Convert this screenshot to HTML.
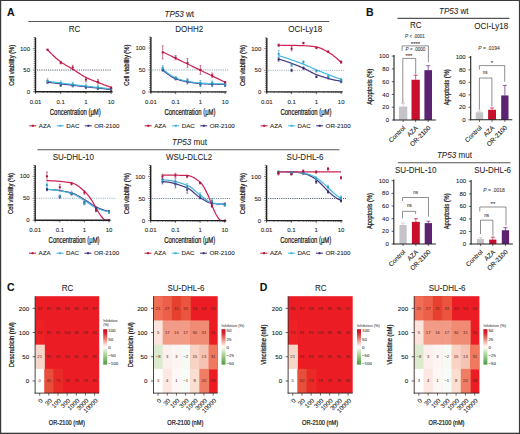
<!DOCTYPE html><html><head><meta charset="utf-8"><style>html,body{margin:0;padding:0;background:#fff;}svg{display:block;}text{stroke:#1a1a1a;stroke-width:0.08px;}text.cn{stroke:none;}text.at{stroke-width:0.22px;stroke:#111;}text.ti{stroke-width:0.05px;stroke:#222;}text.sm{stroke-width:0.06px;stroke:#333;}text.cb{stroke-width:0.08px;stroke:#555;}</style></head><body><svg width="520" height="434" viewBox="0 0 520 434" font-family="Liberation Sans">
<rect x="0.00" y="0.00" width="520.00" height="434.00" fill="#fff" />
<text x="7.00" y="16.00" font-size="10.5" text-anchor="start" font-weight="bold" font-style="normal" fill="#111" >A</text>
<text x="366.00" y="16.30" font-size="10.5" text-anchor="start" font-weight="bold" font-style="normal" fill="#111" >B</text>
<text x="7.00" y="290.60" font-size="10.5" text-anchor="start" font-weight="bold" font-style="normal" fill="#111" >C</text>
<text x="259.70" y="290.60" font-size="10.5" text-anchor="start" font-weight="bold" font-style="normal" fill="#111" >D</text>
<text x="179.3" y="16.9" font-size="8.7" text-anchor="middle" fill="#222" class="ti" textLength="29.64" lengthAdjust="spacingAndGlyphs"><tspan font-style="italic">TP53</tspan> wt</text>
<line x1="28.40" y1="21.50" x2="329.20" y2="21.50" stroke="#555" stroke-width="1.1" />
<text x="189.5" y="145.3" font-size="8.7" text-anchor="middle" fill="#222" class="ti" textLength="34.98" lengthAdjust="spacingAndGlyphs"><tspan font-style="italic">TP53</tspan> mut</text>
<line x1="37.50" y1="149.80" x2="339.40" y2="149.80" stroke="#555" stroke-width="1.1" />
<text x="74.55" y="31.90" font-size="8.7" text-anchor="middle" fill="#222" class="ti" textLength="11.55" lengthAdjust="spacingAndGlyphs">RC</text>
<line x1="37.00" y1="70.05" x2="111.50" y2="70.05" stroke="#3a4456" stroke-width="0.9" stroke-dasharray="1.1,1.1"/>
<polyline points="47.52,82.17 48.60,82.31 49.68,82.44 50.76,82.57 51.83,82.70 52.91,82.84 53.99,82.97 55.07,83.10 56.14,83.23 57.22,83.36 58.30,83.49 59.38,83.62 60.45,83.75 61.53,83.88 62.61,84.01 63.69,84.14 64.76,84.27 65.84,84.39 66.92,84.52 68.00,84.65 69.07,84.78 70.15,84.90 71.23,85.03 72.31,85.16 73.39,85.28 74.46,85.41 75.54,85.53 76.62,85.66 77.70,85.78 78.77,85.91 79.85,86.03 80.93,86.16 82.01,86.28 83.08,86.40 84.16,86.53 85.24,86.65 86.32,86.77 87.39,86.90 88.47,87.02 89.55,87.14 90.63,87.26 91.70,87.39 92.78,87.51 93.86,87.63 94.94,87.75 96.01,87.87 97.09,87.99 98.17,88.11 99.25,88.23 100.32,88.35 101.40,88.47 102.48,88.59 103.56,88.71 104.63,88.83 105.71,88.95 106.79,89.07 107.87,89.18 108.94,89.30 110.02,89.42 111.10,89.53" fill="none" stroke="#4a3a80" stroke-width="1.25"/>
<polyline points="47.52,81.31 48.60,81.45 49.68,81.60 50.76,81.74 51.83,81.89 52.91,82.03 53.99,82.17 55.07,82.32 56.14,82.46 57.22,82.60 58.30,82.74 59.38,82.88 60.45,83.02 61.53,83.16 62.61,83.30 63.69,83.43 64.76,83.57 65.84,83.71 66.92,83.84 68.00,83.98 69.07,84.11 70.15,84.24 71.23,84.37 72.31,84.51 73.39,84.64 74.46,84.77 75.54,84.89 76.62,85.02 77.70,85.15 78.77,85.28 79.85,85.41 80.93,85.54 82.01,85.66 83.08,85.79 84.16,85.91 85.24,86.04 86.32,86.16 87.39,86.29 88.47,86.41 89.55,86.54 90.63,86.66 91.70,86.78 92.78,86.90 93.86,87.03 94.94,87.15 96.01,87.27 97.09,87.39 98.17,87.50 99.25,87.62 100.32,87.74 101.40,87.86 102.48,87.98 103.56,88.09 104.63,88.21 105.71,88.32 106.79,88.44 107.87,88.55 108.94,88.66 110.02,88.77 111.10,88.89" fill="none" stroke="#48b8de" stroke-width="1.25"/>
<polyline points="47.52,49.70 48.60,50.85 49.68,51.98 50.76,53.08 51.83,54.16 52.91,55.20 53.99,56.22 55.07,57.21 56.14,58.16 57.22,59.08 58.30,59.97 59.38,60.83 60.45,61.64 61.53,62.42 62.61,63.15 63.69,63.85 64.76,64.52 65.84,65.17 66.92,65.80 68.00,66.42 69.07,67.03 70.15,67.65 71.23,68.28 72.31,68.93 73.39,69.60 74.46,70.29 75.54,70.99 76.62,71.71 77.70,72.43 78.77,73.14 79.85,73.85 80.93,74.55 82.01,75.22 83.08,75.87 84.16,76.49 85.24,77.07 86.32,77.62 87.39,78.13 88.47,78.61 89.55,79.08 90.63,79.53 91.70,79.97 92.78,80.40 93.86,80.82 94.94,81.23 96.01,81.65 97.09,82.06 98.17,82.49 99.25,82.91 100.32,83.33 101.40,83.75 102.48,84.17 103.56,84.58 104.63,84.99 105.71,85.39 106.79,85.79 107.87,86.19 108.94,86.59 110.02,86.98 111.10,87.37" fill="none" stroke="#cf2356" stroke-width="1.25"/>
<line x1="47.52" y1="80.88" x2="47.52" y2="83.47" stroke="#352a6e" stroke-width="0.6" />
<line x1="46.52" y1="80.88" x2="48.52" y2="80.88" stroke="#352a6e" stroke-width="0.5" />
<line x1="46.52" y1="83.47" x2="48.52" y2="83.47" stroke="#352a6e" stroke-width="0.5" />
<rect x="46.52" y="81.17" width="2.00" height="2.00" fill="#352a6e" />
<line x1="60.70" y1="83.91" x2="60.70" y2="86.50" stroke="#352a6e" stroke-width="0.6" />
<line x1="59.70" y1="83.91" x2="61.70" y2="83.91" stroke="#352a6e" stroke-width="0.5" />
<line x1="59.70" y1="86.50" x2="61.70" y2="86.50" stroke="#352a6e" stroke-width="0.5" />
<rect x="59.70" y="84.20" width="2.00" height="2.00" fill="#352a6e" />
<line x1="72.72" y1="84.34" x2="72.72" y2="86.94" stroke="#352a6e" stroke-width="0.6" />
<line x1="71.72" y1="84.34" x2="73.72" y2="84.34" stroke="#352a6e" stroke-width="0.5" />
<line x1="71.72" y1="86.94" x2="73.72" y2="86.94" stroke="#352a6e" stroke-width="0.5" />
<rect x="71.72" y="84.64" width="2.00" height="2.00" fill="#352a6e" />
<line x1="85.90" y1="86.07" x2="85.90" y2="88.67" stroke="#352a6e" stroke-width="0.6" />
<line x1="84.90" y1="86.07" x2="86.90" y2="86.07" stroke="#352a6e" stroke-width="0.5" />
<line x1="84.90" y1="88.67" x2="86.90" y2="88.67" stroke="#352a6e" stroke-width="0.5" />
<rect x="84.90" y="86.37" width="2.00" height="2.00" fill="#352a6e" />
<line x1="97.92" y1="86.94" x2="97.92" y2="89.53" stroke="#352a6e" stroke-width="0.6" />
<line x1="96.92" y1="86.94" x2="98.92" y2="86.94" stroke="#352a6e" stroke-width="0.5" />
<line x1="96.92" y1="89.53" x2="98.92" y2="89.53" stroke="#352a6e" stroke-width="0.5" />
<rect x="96.92" y="87.24" width="2.00" height="2.00" fill="#352a6e" />
<line x1="111.10" y1="88.67" x2="111.10" y2="90.40" stroke="#352a6e" stroke-width="0.6" />
<line x1="110.10" y1="88.67" x2="112.10" y2="88.67" stroke="#352a6e" stroke-width="0.5" />
<line x1="110.10" y1="90.40" x2="112.10" y2="90.40" stroke="#352a6e" stroke-width="0.5" />
<rect x="110.10" y="88.53" width="2.00" height="2.00" fill="#352a6e" />
<line x1="47.52" y1="78.71" x2="47.52" y2="83.04" stroke="#2f9fc8" stroke-width="0.6" />
<line x1="46.52" y1="78.71" x2="48.52" y2="78.71" stroke="#2f9fc8" stroke-width="0.5" />
<line x1="46.52" y1="83.04" x2="48.52" y2="83.04" stroke="#2f9fc8" stroke-width="0.5" />
<rect x="46.52" y="79.88" width="2.00" height="2.00" fill="#2f9fc8" />
<line x1="60.70" y1="80.88" x2="60.70" y2="85.20" stroke="#2f9fc8" stroke-width="0.6" />
<line x1="59.70" y1="80.88" x2="61.70" y2="80.88" stroke="#2f9fc8" stroke-width="0.5" />
<line x1="59.70" y1="85.20" x2="61.70" y2="85.20" stroke="#2f9fc8" stroke-width="0.5" />
<rect x="59.70" y="82.04" width="2.00" height="2.00" fill="#2f9fc8" />
<line x1="72.72" y1="82.17" x2="72.72" y2="86.50" stroke="#2f9fc8" stroke-width="0.6" />
<line x1="71.72" y1="82.17" x2="73.72" y2="82.17" stroke="#2f9fc8" stroke-width="0.5" />
<line x1="71.72" y1="86.50" x2="73.72" y2="86.50" stroke="#2f9fc8" stroke-width="0.5" />
<rect x="71.72" y="83.34" width="2.00" height="2.00" fill="#2f9fc8" />
<line x1="85.90" y1="83.91" x2="85.90" y2="88.24" stroke="#2f9fc8" stroke-width="0.6" />
<line x1="84.90" y1="83.91" x2="86.90" y2="83.91" stroke="#2f9fc8" stroke-width="0.5" />
<line x1="84.90" y1="88.24" x2="86.90" y2="88.24" stroke="#2f9fc8" stroke-width="0.5" />
<rect x="84.90" y="85.07" width="2.00" height="2.00" fill="#2f9fc8" />
<line x1="97.92" y1="85.20" x2="97.92" y2="89.53" stroke="#2f9fc8" stroke-width="0.6" />
<line x1="96.92" y1="85.20" x2="98.92" y2="85.20" stroke="#2f9fc8" stroke-width="0.5" />
<line x1="96.92" y1="89.53" x2="98.92" y2="89.53" stroke="#2f9fc8" stroke-width="0.5" />
<rect x="96.92" y="86.37" width="2.00" height="2.00" fill="#2f9fc8" />
<line x1="111.10" y1="87.80" x2="111.10" y2="89.53" stroke="#2f9fc8" stroke-width="0.6" />
<line x1="110.10" y1="87.80" x2="112.10" y2="87.80" stroke="#2f9fc8" stroke-width="0.5" />
<line x1="110.10" y1="89.53" x2="112.10" y2="89.53" stroke="#2f9fc8" stroke-width="0.5" />
<rect x="110.10" y="87.67" width="2.00" height="2.00" fill="#2f9fc8" />
<line x1="47.52" y1="49.27" x2="47.52" y2="50.13" stroke="#a8173f" stroke-width="0.6" />
<line x1="46.52" y1="49.27" x2="48.52" y2="49.27" stroke="#a8173f" stroke-width="0.5" />
<line x1="46.52" y1="50.13" x2="48.52" y2="50.13" stroke="#a8173f" stroke-width="0.5" />
<rect x="46.52" y="48.70" width="2.00" height="2.00" fill="#a8173f" />
<line x1="60.70" y1="61.39" x2="60.70" y2="63.99" stroke="#a8173f" stroke-width="0.6" />
<line x1="59.70" y1="61.39" x2="61.70" y2="61.39" stroke="#a8173f" stroke-width="0.5" />
<line x1="59.70" y1="63.99" x2="61.70" y2="63.99" stroke="#a8173f" stroke-width="0.5" />
<rect x="59.70" y="61.69" width="2.00" height="2.00" fill="#a8173f" />
<line x1="72.72" y1="65.29" x2="72.72" y2="69.62" stroke="#a8173f" stroke-width="0.6" />
<line x1="71.72" y1="65.29" x2="73.72" y2="65.29" stroke="#a8173f" stroke-width="0.5" />
<line x1="71.72" y1="69.62" x2="73.72" y2="69.62" stroke="#a8173f" stroke-width="0.5" />
<rect x="71.72" y="66.45" width="2.00" height="2.00" fill="#a8173f" />
<line x1="85.90" y1="77.41" x2="85.90" y2="81.74" stroke="#a8173f" stroke-width="0.6" />
<line x1="84.90" y1="77.41" x2="86.90" y2="77.41" stroke="#a8173f" stroke-width="0.5" />
<line x1="84.90" y1="81.74" x2="86.90" y2="81.74" stroke="#a8173f" stroke-width="0.5" />
<rect x="84.90" y="78.58" width="2.00" height="2.00" fill="#a8173f" />
<line x1="97.92" y1="79.58" x2="97.92" y2="83.91" stroke="#a8173f" stroke-width="0.6" />
<line x1="96.92" y1="79.58" x2="98.92" y2="79.58" stroke="#a8173f" stroke-width="0.5" />
<line x1="96.92" y1="83.91" x2="98.92" y2="83.91" stroke="#a8173f" stroke-width="0.5" />
<rect x="96.92" y="80.74" width="2.00" height="2.00" fill="#a8173f" />
<line x1="111.10" y1="86.94" x2="111.10" y2="88.67" stroke="#a8173f" stroke-width="0.6" />
<line x1="110.10" y1="86.94" x2="112.10" y2="86.94" stroke="#a8173f" stroke-width="0.5" />
<line x1="110.10" y1="88.67" x2="112.10" y2="88.67" stroke="#a8173f" stroke-width="0.5" />
<rect x="110.10" y="86.80" width="2.00" height="2.00" fill="#a8173f" />
<line x1="35.50" y1="37.57" x2="35.50" y2="92.20" stroke="#222" stroke-width="1.4" />
<line x1="34.80" y1="91.70" x2="112.60" y2="91.70" stroke="#222" stroke-width="1.4" />
<line x1="32.90" y1="91.70" x2="35.50" y2="91.70" stroke="#222" stroke-width="0.6" />
<line x1="33.70" y1="89.53" x2="35.50" y2="89.53" stroke="#222" stroke-width="0.6" />
<line x1="33.70" y1="87.37" x2="35.50" y2="87.37" stroke="#222" stroke-width="0.6" />
<line x1="33.70" y1="85.20" x2="35.50" y2="85.20" stroke="#222" stroke-width="0.6" />
<line x1="33.70" y1="83.04" x2="35.50" y2="83.04" stroke="#222" stroke-width="0.6" />
<line x1="33.70" y1="80.88" x2="35.50" y2="80.88" stroke="#222" stroke-width="0.6" />
<line x1="33.70" y1="78.71" x2="35.50" y2="78.71" stroke="#222" stroke-width="0.6" />
<line x1="33.70" y1="76.55" x2="35.50" y2="76.55" stroke="#222" stroke-width="0.6" />
<line x1="33.70" y1="74.38" x2="35.50" y2="74.38" stroke="#222" stroke-width="0.6" />
<line x1="33.70" y1="72.22" x2="35.50" y2="72.22" stroke="#222" stroke-width="0.6" />
<line x1="32.90" y1="70.05" x2="35.50" y2="70.05" stroke="#222" stroke-width="0.6" />
<line x1="33.70" y1="67.89" x2="35.50" y2="67.89" stroke="#222" stroke-width="0.6" />
<line x1="33.70" y1="65.72" x2="35.50" y2="65.72" stroke="#222" stroke-width="0.6" />
<line x1="33.70" y1="63.55" x2="35.50" y2="63.55" stroke="#222" stroke-width="0.6" />
<line x1="33.70" y1="61.39" x2="35.50" y2="61.39" stroke="#222" stroke-width="0.6" />
<line x1="33.70" y1="59.23" x2="35.50" y2="59.23" stroke="#222" stroke-width="0.6" />
<line x1="33.70" y1="57.06" x2="35.50" y2="57.06" stroke="#222" stroke-width="0.6" />
<line x1="33.70" y1="54.89" x2="35.50" y2="54.89" stroke="#222" stroke-width="0.6" />
<line x1="33.70" y1="52.73" x2="35.50" y2="52.73" stroke="#222" stroke-width="0.6" />
<line x1="33.70" y1="50.56" x2="35.50" y2="50.56" stroke="#222" stroke-width="0.6" />
<line x1="32.90" y1="48.40" x2="35.50" y2="48.40" stroke="#222" stroke-width="0.6" />
<line x1="33.70" y1="46.23" x2="35.50" y2="46.23" stroke="#222" stroke-width="0.6" />
<line x1="33.70" y1="44.07" x2="35.50" y2="44.07" stroke="#222" stroke-width="0.6" />
<line x1="33.70" y1="41.90" x2="35.50" y2="41.90" stroke="#222" stroke-width="0.6" />
<line x1="33.70" y1="39.74" x2="35.50" y2="39.74" stroke="#222" stroke-width="0.6" />
<line x1="33.70" y1="37.57" x2="35.50" y2="37.57" stroke="#222" stroke-width="0.6" />
<text x="30.00" y="93.80" font-size="6" text-anchor="end" font-weight="normal" font-style="normal" fill="#222" >0</text>
<text x="30.00" y="72.15" font-size="6" text-anchor="end" font-weight="normal" font-style="normal" fill="#222" >50</text>
<text x="30.00" y="50.50" font-size="6" text-anchor="end" font-weight="normal" font-style="normal" fill="#222" >100</text>
<line x1="35.50" y1="91.70" x2="35.50" y2="93.90" stroke="#222" stroke-width="0.7" />
<line x1="43.09" y1="91.70" x2="43.09" y2="92.90" stroke="#222" stroke-width="0.5" />
<line x1="47.52" y1="91.70" x2="47.52" y2="92.90" stroke="#222" stroke-width="0.5" />
<line x1="50.67" y1="91.70" x2="50.67" y2="92.90" stroke="#222" stroke-width="0.5" />
<line x1="53.11" y1="91.70" x2="53.11" y2="92.90" stroke="#222" stroke-width="0.5" />
<line x1="55.11" y1="91.70" x2="55.11" y2="92.90" stroke="#222" stroke-width="0.5" />
<line x1="56.80" y1="91.70" x2="56.80" y2="92.90" stroke="#222" stroke-width="0.5" />
<line x1="58.26" y1="91.70" x2="58.26" y2="92.90" stroke="#222" stroke-width="0.5" />
<line x1="59.55" y1="91.70" x2="59.55" y2="92.90" stroke="#222" stroke-width="0.5" />
<line x1="60.70" y1="91.70" x2="60.70" y2="93.90" stroke="#222" stroke-width="0.7" />
<line x1="68.29" y1="91.70" x2="68.29" y2="92.90" stroke="#222" stroke-width="0.5" />
<line x1="72.72" y1="91.70" x2="72.72" y2="92.90" stroke="#222" stroke-width="0.5" />
<line x1="75.87" y1="91.70" x2="75.87" y2="92.90" stroke="#222" stroke-width="0.5" />
<line x1="78.31" y1="91.70" x2="78.31" y2="92.90" stroke="#222" stroke-width="0.5" />
<line x1="80.31" y1="91.70" x2="80.31" y2="92.90" stroke="#222" stroke-width="0.5" />
<line x1="82.00" y1="91.70" x2="82.00" y2="92.90" stroke="#222" stroke-width="0.5" />
<line x1="83.46" y1="91.70" x2="83.46" y2="92.90" stroke="#222" stroke-width="0.5" />
<line x1="84.75" y1="91.70" x2="84.75" y2="92.90" stroke="#222" stroke-width="0.5" />
<line x1="85.90" y1="91.70" x2="85.90" y2="93.90" stroke="#222" stroke-width="0.7" />
<line x1="93.49" y1="91.70" x2="93.49" y2="92.90" stroke="#222" stroke-width="0.5" />
<line x1="97.92" y1="91.70" x2="97.92" y2="92.90" stroke="#222" stroke-width="0.5" />
<line x1="101.07" y1="91.70" x2="101.07" y2="92.90" stroke="#222" stroke-width="0.5" />
<line x1="103.51" y1="91.70" x2="103.51" y2="92.90" stroke="#222" stroke-width="0.5" />
<line x1="105.51" y1="91.70" x2="105.51" y2="92.90" stroke="#222" stroke-width="0.5" />
<line x1="107.20" y1="91.70" x2="107.20" y2="92.90" stroke="#222" stroke-width="0.5" />
<line x1="108.66" y1="91.70" x2="108.66" y2="92.90" stroke="#222" stroke-width="0.5" />
<line x1="109.95" y1="91.70" x2="109.95" y2="92.90" stroke="#222" stroke-width="0.5" />
<line x1="111.10" y1="91.70" x2="111.10" y2="93.90" stroke="#222" stroke-width="0.7" />
<text x="35.50" y="103.50" font-size="6" text-anchor="middle" font-weight="normal" font-style="normal" fill="#222" >0.01</text>
<text x="60.70" y="103.50" font-size="6" text-anchor="middle" font-weight="normal" font-style="normal" fill="#222" >0.1</text>
<text x="85.90" y="103.50" font-size="6" text-anchor="middle" font-weight="normal" font-style="normal" fill="#222" >1</text>
<text x="111.10" y="103.50" font-size="6" text-anchor="middle" font-weight="normal" font-style="normal" fill="#222" >10</text>
<text x="75.30" y="114.50" font-size="9" text-anchor="middle" font-weight="normal" font-style="normal" fill="#111" class="at" textLength="51" lengthAdjust="spacingAndGlyphs">Concentration (μM)</text>
<text transform="translate(13.50,65.34) rotate(-90)" x="0" y="0" font-size="7.4" text-anchor="middle" fill="#111" class="at" textLength="41" lengthAdjust="spacingAndGlyphs">Cell viability (%)</text>
<line x1="29.30" y1="125.80" x2="36.30" y2="125.80" stroke="#b9173f" stroke-width="1.0" />
<rect x="31.90" y="124.80" width="2.00" height="2.00" fill="#b9173f" />
<text x="38.80" y="128.00" font-size="6.2" text-anchor="start" font-weight="normal" font-style="normal" fill="#222" >AZA</text>
<line x1="56.80" y1="125.80" x2="63.80" y2="125.80" stroke="#3cb4dc" stroke-width="1.0" />
<rect x="59.40" y="124.80" width="2.00" height="2.00" fill="#3cb4dc" />
<text x="66.30" y="128.00" font-size="6.2" text-anchor="start" font-weight="normal" font-style="normal" fill="#222" >DAC</text>
<line x1="84.80" y1="125.80" x2="91.80" y2="125.80" stroke="#3b2c7a" stroke-width="1.0" />
<rect x="87.40" y="124.80" width="2.00" height="2.00" fill="#3b2c7a" />
<text x="94.30" y="128.00" font-size="6.2" text-anchor="start" font-weight="normal" font-style="normal" fill="#222" >OR-2100</text>
<text x="189.28" y="31.50" font-size="8.7" text-anchor="middle" fill="#222" class="ti" textLength="28.00" lengthAdjust="spacingAndGlyphs">DOHH2</text>
<line x1="152.40" y1="69.95" x2="228.50" y2="69.95" stroke="#7f93a8" stroke-width="0.9" stroke-dasharray="1.1,1.1"/>
<polyline points="162.71,69.95 163.77,70.89 164.83,71.80 165.88,72.68 166.94,73.53 168.00,74.33 169.06,75.10 170.12,75.82 171.18,76.50 172.23,77.12 173.29,77.69 174.35,78.19 175.41,78.64 176.47,79.03 177.53,79.39 178.58,79.73 179.64,80.04 180.70,80.33 181.76,80.60 182.82,80.86 183.88,81.10 184.93,81.32 185.99,81.53 187.05,81.73 188.11,81.92 189.17,82.11 190.23,82.29 191.28,82.46 192.34,82.63 193.40,82.80 194.46,82.95 195.52,83.09 196.58,83.22 197.63,83.33 198.69,83.43 199.75,83.52 200.81,83.58 201.87,83.65 202.93,83.71 203.98,83.77 205.04,83.82 206.10,83.88 207.16,83.93 208.22,83.99 209.28,84.04 210.33,84.08 211.39,84.13 212.45,84.17 213.51,84.21 214.57,84.25 215.63,84.28 216.68,84.31 217.74,84.34 218.80,84.37 219.86,84.39 220.92,84.40 221.98,84.42 223.03,84.43 224.09,84.43 225.15,84.44" fill="none" stroke="#4a3a80" stroke-width="1.25"/>
<polyline points="162.71,69.07 163.77,69.99 164.83,70.88 165.88,71.74 166.94,72.58 168.00,73.37 169.06,74.13 170.12,74.85 171.18,75.53 172.23,76.16 173.29,76.74 174.35,77.27 175.41,77.75 176.47,78.18 177.53,78.59 178.58,78.97 179.64,79.34 180.70,79.68 181.76,80.00 182.82,80.30 183.88,80.58 184.93,80.83 185.99,81.07 187.05,81.29 188.11,81.48 189.17,81.68 190.23,81.86 191.28,82.04 192.34,82.21 193.40,82.37 194.46,82.52 195.52,82.66 196.58,82.79 197.63,82.90 198.69,83.00 199.75,83.08 200.81,83.14 201.87,83.21 202.93,83.27 203.98,83.33 205.04,83.38 206.10,83.44 207.16,83.49 208.22,83.55 209.28,83.60 210.33,83.64 211.39,83.69 212.45,83.73 213.51,83.77 214.57,83.81 215.63,83.84 216.68,83.87 217.74,83.90 218.80,83.93 219.86,83.95 220.92,83.97 221.98,83.98 223.03,83.99 224.09,84.00 225.15,84.00" fill="none" stroke="#48b8de" stroke-width="1.25"/>
<polyline points="162.71,51.95 163.77,52.46 164.83,52.98 165.88,53.49 166.94,54.00 168.00,54.52 169.06,55.03 170.12,55.54 171.18,56.06 172.23,56.57 173.29,57.09 174.35,57.60 175.41,58.11 176.47,58.63 177.53,59.14 178.58,59.65 179.64,60.17 180.70,60.68 181.76,61.19 182.82,61.71 183.88,62.22 184.93,62.73 185.99,63.25 187.05,63.76 188.11,64.27 189.17,64.79 190.23,65.30 191.28,65.81 192.34,66.33 193.40,66.84 194.46,67.35 195.52,67.87 196.58,68.38 197.63,68.89 198.69,69.41 199.75,69.92 200.81,70.43 201.87,70.95 202.93,71.46 203.98,71.97 205.04,72.49 206.10,73.00 207.16,73.51 208.22,74.03 209.28,74.54 210.33,75.05 211.39,75.57 212.45,76.08 213.51,76.59 214.57,77.11 215.63,77.62 216.68,78.13 217.74,78.65 218.80,79.16 219.86,79.67 220.92,80.19 221.98,80.70 223.03,81.22 224.09,81.73 225.15,82.24" fill="none" stroke="#cf2356" stroke-width="1.25"/>
<line x1="162.71" y1="68.63" x2="162.71" y2="71.27" stroke="#352a6e" stroke-width="0.6" />
<line x1="161.71" y1="68.63" x2="163.71" y2="68.63" stroke="#352a6e" stroke-width="0.5" />
<line x1="161.71" y1="71.27" x2="163.71" y2="71.27" stroke="#352a6e" stroke-width="0.5" />
<rect x="161.71" y="68.95" width="2.00" height="2.00" fill="#352a6e" />
<line x1="175.65" y1="77.41" x2="175.65" y2="80.05" stroke="#352a6e" stroke-width="0.6" />
<line x1="174.65" y1="77.41" x2="176.65" y2="77.41" stroke="#352a6e" stroke-width="0.5" />
<line x1="174.65" y1="80.05" x2="176.65" y2="80.05" stroke="#352a6e" stroke-width="0.5" />
<rect x="174.65" y="77.73" width="2.00" height="2.00" fill="#352a6e" />
<line x1="187.46" y1="79.61" x2="187.46" y2="84.00" stroke="#352a6e" stroke-width="0.6" />
<line x1="186.46" y1="79.61" x2="188.46" y2="79.61" stroke="#352a6e" stroke-width="0.5" />
<line x1="186.46" y1="84.00" x2="188.46" y2="84.00" stroke="#352a6e" stroke-width="0.5" />
<rect x="186.46" y="80.80" width="2.00" height="2.00" fill="#352a6e" />
<line x1="200.40" y1="82.24" x2="200.40" y2="86.63" stroke="#352a6e" stroke-width="0.6" />
<line x1="199.40" y1="82.24" x2="201.40" y2="82.24" stroke="#352a6e" stroke-width="0.5" />
<line x1="199.40" y1="86.63" x2="201.40" y2="86.63" stroke="#352a6e" stroke-width="0.5" />
<rect x="199.40" y="83.44" width="2.00" height="2.00" fill="#352a6e" />
<line x1="212.21" y1="82.24" x2="212.21" y2="86.63" stroke="#352a6e" stroke-width="0.6" />
<line x1="211.21" y1="82.24" x2="213.21" y2="82.24" stroke="#352a6e" stroke-width="0.5" />
<line x1="211.21" y1="86.63" x2="213.21" y2="86.63" stroke="#352a6e" stroke-width="0.5" />
<rect x="211.21" y="83.44" width="2.00" height="2.00" fill="#352a6e" />
<line x1="225.15" y1="84.00" x2="225.15" y2="86.63" stroke="#352a6e" stroke-width="0.6" />
<line x1="224.15" y1="84.00" x2="226.15" y2="84.00" stroke="#352a6e" stroke-width="0.5" />
<line x1="224.15" y1="86.63" x2="226.15" y2="86.63" stroke="#352a6e" stroke-width="0.5" />
<rect x="224.15" y="84.31" width="2.00" height="2.00" fill="#352a6e" />
<line x1="162.71" y1="65.56" x2="162.71" y2="69.95" stroke="#2f9fc8" stroke-width="0.6" />
<line x1="161.71" y1="65.56" x2="163.71" y2="65.56" stroke="#2f9fc8" stroke-width="0.5" />
<line x1="161.71" y1="69.95" x2="163.71" y2="69.95" stroke="#2f9fc8" stroke-width="0.5" />
<rect x="161.71" y="66.75" width="2.00" height="2.00" fill="#2f9fc8" />
<line x1="175.65" y1="76.53" x2="175.65" y2="79.17" stroke="#2f9fc8" stroke-width="0.6" />
<line x1="174.65" y1="76.53" x2="176.65" y2="76.53" stroke="#2f9fc8" stroke-width="0.5" />
<line x1="174.65" y1="79.17" x2="176.65" y2="79.17" stroke="#2f9fc8" stroke-width="0.5" />
<rect x="174.65" y="76.85" width="2.00" height="2.00" fill="#2f9fc8" />
<line x1="187.46" y1="78.29" x2="187.46" y2="82.68" stroke="#2f9fc8" stroke-width="0.6" />
<line x1="186.46" y1="78.29" x2="188.46" y2="78.29" stroke="#2f9fc8" stroke-width="0.5" />
<line x1="186.46" y1="82.68" x2="188.46" y2="82.68" stroke="#2f9fc8" stroke-width="0.5" />
<rect x="186.46" y="79.49" width="2.00" height="2.00" fill="#2f9fc8" />
<line x1="200.40" y1="80.49" x2="200.40" y2="85.75" stroke="#2f9fc8" stroke-width="0.6" />
<line x1="199.40" y1="80.49" x2="201.40" y2="80.49" stroke="#2f9fc8" stroke-width="0.5" />
<line x1="199.40" y1="85.75" x2="201.40" y2="85.75" stroke="#2f9fc8" stroke-width="0.5" />
<rect x="199.40" y="82.12" width="2.00" height="2.00" fill="#2f9fc8" />
<line x1="212.21" y1="80.93" x2="212.21" y2="85.31" stroke="#2f9fc8" stroke-width="0.6" />
<line x1="211.21" y1="80.93" x2="213.21" y2="80.93" stroke="#2f9fc8" stroke-width="0.5" />
<line x1="211.21" y1="85.31" x2="213.21" y2="85.31" stroke="#2f9fc8" stroke-width="0.5" />
<rect x="211.21" y="82.12" width="2.00" height="2.00" fill="#2f9fc8" />
<line x1="225.15" y1="82.68" x2="225.15" y2="86.19" stroke="#2f9fc8" stroke-width="0.6" />
<line x1="224.15" y1="82.68" x2="226.15" y2="82.68" stroke="#2f9fc8" stroke-width="0.5" />
<line x1="224.15" y1="86.19" x2="226.15" y2="86.19" stroke="#2f9fc8" stroke-width="0.5" />
<rect x="224.15" y="83.44" width="2.00" height="2.00" fill="#2f9fc8" />
<line x1="162.71" y1="45.80" x2="162.71" y2="58.98" stroke="#a8173f" stroke-width="0.6" />
<line x1="161.71" y1="45.80" x2="163.71" y2="45.80" stroke="#a8173f" stroke-width="0.5" />
<line x1="161.71" y1="58.98" x2="163.71" y2="58.98" stroke="#a8173f" stroke-width="0.5" />
<rect x="161.71" y="51.39" width="2.00" height="2.00" fill="#a8173f" />
<line x1="175.65" y1="55.46" x2="175.65" y2="59.85" stroke="#a8173f" stroke-width="0.6" />
<line x1="174.65" y1="55.46" x2="176.65" y2="55.46" stroke="#a8173f" stroke-width="0.5" />
<line x1="174.65" y1="59.85" x2="176.65" y2="59.85" stroke="#a8173f" stroke-width="0.5" />
<rect x="174.65" y="56.66" width="2.00" height="2.00" fill="#a8173f" />
<line x1="187.46" y1="58.54" x2="187.46" y2="67.32" stroke="#a8173f" stroke-width="0.6" />
<line x1="186.46" y1="58.54" x2="188.46" y2="58.54" stroke="#a8173f" stroke-width="0.5" />
<line x1="186.46" y1="67.32" x2="188.46" y2="67.32" stroke="#a8173f" stroke-width="0.5" />
<rect x="186.46" y="61.93" width="2.00" height="2.00" fill="#a8173f" />
<line x1="200.40" y1="65.56" x2="200.40" y2="74.34" stroke="#a8173f" stroke-width="0.6" />
<line x1="199.40" y1="65.56" x2="201.40" y2="65.56" stroke="#a8173f" stroke-width="0.5" />
<line x1="199.40" y1="74.34" x2="201.40" y2="74.34" stroke="#a8173f" stroke-width="0.5" />
<rect x="199.40" y="68.95" width="2.00" height="2.00" fill="#a8173f" />
<line x1="212.21" y1="73.02" x2="212.21" y2="77.41" stroke="#a8173f" stroke-width="0.6" />
<line x1="211.21" y1="73.02" x2="213.21" y2="73.02" stroke="#a8173f" stroke-width="0.5" />
<line x1="211.21" y1="77.41" x2="213.21" y2="77.41" stroke="#a8173f" stroke-width="0.5" />
<rect x="211.21" y="74.22" width="2.00" height="2.00" fill="#a8173f" />
<line x1="225.15" y1="81.36" x2="225.15" y2="83.12" stroke="#a8173f" stroke-width="0.6" />
<line x1="224.15" y1="81.36" x2="226.15" y2="81.36" stroke="#a8173f" stroke-width="0.5" />
<line x1="224.15" y1="83.12" x2="226.15" y2="83.12" stroke="#a8173f" stroke-width="0.5" />
<rect x="224.15" y="81.24" width="2.00" height="2.00" fill="#a8173f" />
<line x1="150.90" y1="37.02" x2="150.90" y2="92.40" stroke="#222" stroke-width="1.4" />
<line x1="150.20" y1="91.90" x2="226.65" y2="91.90" stroke="#222" stroke-width="1.4" />
<line x1="148.30" y1="91.90" x2="150.90" y2="91.90" stroke="#222" stroke-width="0.6" />
<line x1="149.10" y1="89.71" x2="150.90" y2="89.71" stroke="#222" stroke-width="0.6" />
<line x1="149.10" y1="87.51" x2="150.90" y2="87.51" stroke="#222" stroke-width="0.6" />
<line x1="149.10" y1="85.31" x2="150.90" y2="85.31" stroke="#222" stroke-width="0.6" />
<line x1="149.10" y1="83.12" x2="150.90" y2="83.12" stroke="#222" stroke-width="0.6" />
<line x1="149.10" y1="80.93" x2="150.90" y2="80.93" stroke="#222" stroke-width="0.6" />
<line x1="149.10" y1="78.73" x2="150.90" y2="78.73" stroke="#222" stroke-width="0.6" />
<line x1="149.10" y1="76.53" x2="150.90" y2="76.53" stroke="#222" stroke-width="0.6" />
<line x1="149.10" y1="74.34" x2="150.90" y2="74.34" stroke="#222" stroke-width="0.6" />
<line x1="149.10" y1="72.15" x2="150.90" y2="72.15" stroke="#222" stroke-width="0.6" />
<line x1="148.30" y1="69.95" x2="150.90" y2="69.95" stroke="#222" stroke-width="0.6" />
<line x1="149.10" y1="67.75" x2="150.90" y2="67.75" stroke="#222" stroke-width="0.6" />
<line x1="149.10" y1="65.56" x2="150.90" y2="65.56" stroke="#222" stroke-width="0.6" />
<line x1="149.10" y1="63.37" x2="150.90" y2="63.37" stroke="#222" stroke-width="0.6" />
<line x1="149.10" y1="61.17" x2="150.90" y2="61.17" stroke="#222" stroke-width="0.6" />
<line x1="149.10" y1="58.98" x2="150.90" y2="58.98" stroke="#222" stroke-width="0.6" />
<line x1="149.10" y1="56.78" x2="150.90" y2="56.78" stroke="#222" stroke-width="0.6" />
<line x1="149.10" y1="54.59" x2="150.90" y2="54.59" stroke="#222" stroke-width="0.6" />
<line x1="149.10" y1="52.39" x2="150.90" y2="52.39" stroke="#222" stroke-width="0.6" />
<line x1="149.10" y1="50.20" x2="150.90" y2="50.20" stroke="#222" stroke-width="0.6" />
<line x1="148.30" y1="48.00" x2="150.90" y2="48.00" stroke="#222" stroke-width="0.6" />
<line x1="149.10" y1="45.80" x2="150.90" y2="45.80" stroke="#222" stroke-width="0.6" />
<line x1="149.10" y1="43.61" x2="150.90" y2="43.61" stroke="#222" stroke-width="0.6" />
<line x1="149.10" y1="41.41" x2="150.90" y2="41.41" stroke="#222" stroke-width="0.6" />
<line x1="149.10" y1="39.22" x2="150.90" y2="39.22" stroke="#222" stroke-width="0.6" />
<line x1="149.10" y1="37.02" x2="150.90" y2="37.02" stroke="#222" stroke-width="0.6" />
<text x="145.40" y="94.00" font-size="6" text-anchor="end" font-weight="normal" font-style="normal" fill="#222" >0</text>
<text x="145.40" y="72.05" font-size="6" text-anchor="end" font-weight="normal" font-style="normal" fill="#222" >50</text>
<text x="145.40" y="50.10" font-size="6" text-anchor="end" font-weight="normal" font-style="normal" fill="#222" >100</text>
<line x1="150.90" y1="91.90" x2="150.90" y2="94.10" stroke="#222" stroke-width="0.7" />
<line x1="158.35" y1="91.90" x2="158.35" y2="93.10" stroke="#222" stroke-width="0.5" />
<line x1="162.71" y1="91.90" x2="162.71" y2="93.10" stroke="#222" stroke-width="0.5" />
<line x1="165.80" y1="91.90" x2="165.80" y2="93.10" stroke="#222" stroke-width="0.5" />
<line x1="168.20" y1="91.90" x2="168.20" y2="93.10" stroke="#222" stroke-width="0.5" />
<line x1="170.16" y1="91.90" x2="170.16" y2="93.10" stroke="#222" stroke-width="0.5" />
<line x1="171.82" y1="91.90" x2="171.82" y2="93.10" stroke="#222" stroke-width="0.5" />
<line x1="173.25" y1="91.90" x2="173.25" y2="93.10" stroke="#222" stroke-width="0.5" />
<line x1="174.52" y1="91.90" x2="174.52" y2="93.10" stroke="#222" stroke-width="0.5" />
<line x1="175.65" y1="91.90" x2="175.65" y2="94.10" stroke="#222" stroke-width="0.7" />
<line x1="183.10" y1="91.90" x2="183.10" y2="93.10" stroke="#222" stroke-width="0.5" />
<line x1="187.46" y1="91.90" x2="187.46" y2="93.10" stroke="#222" stroke-width="0.5" />
<line x1="190.55" y1="91.90" x2="190.55" y2="93.10" stroke="#222" stroke-width="0.5" />
<line x1="192.95" y1="91.90" x2="192.95" y2="93.10" stroke="#222" stroke-width="0.5" />
<line x1="194.91" y1="91.90" x2="194.91" y2="93.10" stroke="#222" stroke-width="0.5" />
<line x1="196.57" y1="91.90" x2="196.57" y2="93.10" stroke="#222" stroke-width="0.5" />
<line x1="198.00" y1="91.90" x2="198.00" y2="93.10" stroke="#222" stroke-width="0.5" />
<line x1="199.27" y1="91.90" x2="199.27" y2="93.10" stroke="#222" stroke-width="0.5" />
<line x1="200.40" y1="91.90" x2="200.40" y2="94.10" stroke="#222" stroke-width="0.7" />
<line x1="207.85" y1="91.90" x2="207.85" y2="93.10" stroke="#222" stroke-width="0.5" />
<line x1="212.21" y1="91.90" x2="212.21" y2="93.10" stroke="#222" stroke-width="0.5" />
<line x1="215.30" y1="91.90" x2="215.30" y2="93.10" stroke="#222" stroke-width="0.5" />
<line x1="217.70" y1="91.90" x2="217.70" y2="93.10" stroke="#222" stroke-width="0.5" />
<line x1="219.66" y1="91.90" x2="219.66" y2="93.10" stroke="#222" stroke-width="0.5" />
<line x1="221.32" y1="91.90" x2="221.32" y2="93.10" stroke="#222" stroke-width="0.5" />
<line x1="222.75" y1="91.90" x2="222.75" y2="93.10" stroke="#222" stroke-width="0.5" />
<line x1="224.02" y1="91.90" x2="224.02" y2="93.10" stroke="#222" stroke-width="0.5" />
<line x1="225.15" y1="91.90" x2="225.15" y2="94.10" stroke="#222" stroke-width="0.7" />
<text x="150.90" y="103.70" font-size="6" text-anchor="middle" font-weight="normal" font-style="normal" fill="#222" >0.01</text>
<text x="175.65" y="103.70" font-size="6" text-anchor="middle" font-weight="normal" font-style="normal" fill="#222" >0.1</text>
<text x="200.40" y="103.70" font-size="6" text-anchor="middle" font-weight="normal" font-style="normal" fill="#222" >1</text>
<text x="225.15" y="103.70" font-size="6" text-anchor="middle" font-weight="normal" font-style="normal" fill="#222" >10</text>
<text x="190.03" y="114.70" font-size="9" text-anchor="middle" font-weight="normal" font-style="normal" fill="#111" class="at" textLength="51" lengthAdjust="spacingAndGlyphs">Concentration (μM)</text>
<text transform="translate(128.90,65.16) rotate(-90)" x="0" y="0" font-size="7.4" text-anchor="middle" fill="#111" class="at" textLength="41" lengthAdjust="spacingAndGlyphs">Cell viability (%)</text>
<line x1="144.70" y1="125.80" x2="151.70" y2="125.80" stroke="#b9173f" stroke-width="1.0" />
<rect x="147.30" y="124.80" width="2.00" height="2.00" fill="#b9173f" />
<text x="154.20" y="128.00" font-size="6.2" text-anchor="start" font-weight="normal" font-style="normal" fill="#222" >AZA</text>
<line x1="172.20" y1="125.80" x2="179.20" y2="125.80" stroke="#3cb4dc" stroke-width="1.0" />
<rect x="174.80" y="124.80" width="2.00" height="2.00" fill="#3cb4dc" />
<text x="181.70" y="128.00" font-size="6.2" text-anchor="start" font-weight="normal" font-style="normal" fill="#222" >DAC</text>
<line x1="200.20" y1="125.80" x2="207.20" y2="125.80" stroke="#3b2c7a" stroke-width="1.0" />
<rect x="202.80" y="124.80" width="2.00" height="2.00" fill="#3b2c7a" />
<text x="209.70" y="128.00" font-size="6.2" text-anchor="start" font-weight="normal" font-style="normal" fill="#222" >OR-2100</text>
<text x="305.25" y="32.20" font-size="8.7" text-anchor="middle" fill="#222" class="ti" textLength="33.94" lengthAdjust="spacingAndGlyphs">OCI-Ly18</text>
<line x1="268.30" y1="70.30" x2="345.00" y2="70.30" stroke="#93a5b5" stroke-width="0.9" stroke-dasharray="1.1,1.1"/>
<polyline points="278.63,59.07 279.69,59.37 280.75,59.68 281.81,60.00 282.87,60.33 283.93,60.66 285.00,61.01 286.06,61.36 287.12,61.73 288.18,62.10 289.24,62.48 290.30,62.86 291.36,63.26 292.42,63.66 293.48,64.06 294.54,64.47 295.60,64.89 296.66,65.32 297.72,65.75 298.78,66.18 299.84,66.62 300.90,67.06 301.96,67.51 303.02,67.96 304.08,68.43 305.14,68.93 306.20,69.47 307.27,70.04 308.33,70.62 309.39,71.21 310.45,71.79 311.51,72.37 312.57,72.92 313.63,73.45 314.69,73.94 315.75,74.38 316.81,74.76 317.87,75.14 318.93,75.51 319.99,75.87 321.05,76.23 322.11,76.59 323.17,76.93 324.23,77.27 325.29,77.61 326.35,77.93 327.41,78.24 328.47,78.54 329.53,78.84 330.60,79.12 331.66,79.38 332.72,79.64 333.78,79.88 334.84,80.10 335.90,80.31 336.96,80.50 338.02,80.68 339.08,80.84 340.14,80.98 341.20,81.10" fill="none" stroke="#4a3a80" stroke-width="1.25"/>
<polyline points="278.63,55.61 279.69,55.93 280.75,56.25 281.81,56.57 282.87,56.90 283.93,57.24 285.00,57.58 286.06,57.93 287.12,58.28 288.18,58.64 289.24,59.00 290.30,59.37 291.36,59.74 292.42,60.12 293.48,60.50 294.54,60.89 295.60,61.27 296.66,61.67 297.72,62.06 298.78,62.46 299.84,62.87 300.90,63.27 301.96,63.68 303.02,64.09 304.08,64.51 305.14,64.94 306.20,65.39 307.27,65.85 308.33,66.32 309.39,66.79 310.45,67.27 311.51,67.75 312.57,68.22 313.63,68.69 314.69,69.15 315.75,69.60 316.81,70.04 317.87,70.47 318.93,70.90 319.99,71.33 321.05,71.75 322.11,72.18 323.17,72.60 324.23,73.02 325.29,73.44 326.35,73.85 327.41,74.27 328.47,74.68 329.53,75.08 330.60,75.49 331.66,75.89 332.72,76.29 333.78,76.69 334.84,77.08 335.90,77.47 336.96,77.86 338.02,78.24 339.08,78.62 340.14,79.00 341.20,79.37" fill="none" stroke="#48b8de" stroke-width="1.25"/>
<polyline points="278.63,45.24 279.69,45.24 280.75,45.25 281.81,45.25 282.87,45.26 283.93,45.27 285.00,45.28 286.06,45.29 287.12,45.30 288.18,45.31 289.24,45.33 290.30,45.35 291.36,45.37 292.42,45.39 293.48,45.41 294.54,45.43 295.60,45.46 296.66,45.48 297.72,45.51 298.78,45.54 299.84,45.57 300.90,45.60 301.96,45.63 303.02,45.66 304.08,45.70 305.14,45.75 306.20,45.81 307.27,45.88 308.33,45.96 309.39,46.06 310.45,46.16 311.51,46.28 312.57,46.41 313.63,46.55 314.69,46.70 315.75,46.87 316.81,47.05 317.87,47.29 318.93,47.60 319.99,47.97 321.05,48.40 322.11,48.88 323.17,49.39 324.23,49.94 325.29,50.51 326.35,51.10 327.41,51.69 328.47,52.29 329.53,52.93 330.60,53.61 331.66,54.33 332.72,55.10 333.78,55.90 334.84,56.75 335.90,57.63 336.96,58.55 338.02,59.50 339.08,60.48 340.14,61.49 341.20,62.52" fill="none" stroke="#cf2356" stroke-width="1.25"/>
<line x1="278.63" y1="57.77" x2="278.63" y2="61.23" stroke="#352a6e" stroke-width="0.6" />
<line x1="277.63" y1="57.77" x2="279.63" y2="57.77" stroke="#352a6e" stroke-width="0.5" />
<line x1="277.63" y1="61.23" x2="279.63" y2="61.23" stroke="#352a6e" stroke-width="0.5" />
<rect x="277.63" y="58.50" width="2.00" height="2.00" fill="#352a6e" />
<line x1="291.60" y1="69.00" x2="291.60" y2="71.60" stroke="#352a6e" stroke-width="0.6" />
<line x1="290.60" y1="69.00" x2="292.60" y2="69.00" stroke="#352a6e" stroke-width="0.5" />
<line x1="290.60" y1="71.60" x2="292.60" y2="71.60" stroke="#352a6e" stroke-width="0.5" />
<rect x="290.60" y="69.30" width="2.00" height="2.00" fill="#352a6e" />
<line x1="303.43" y1="66.84" x2="303.43" y2="69.44" stroke="#352a6e" stroke-width="0.6" />
<line x1="302.43" y1="66.84" x2="304.43" y2="66.84" stroke="#352a6e" stroke-width="0.5" />
<line x1="302.43" y1="69.44" x2="304.43" y2="69.44" stroke="#352a6e" stroke-width="0.5" />
<rect x="302.43" y="67.14" width="2.00" height="2.00" fill="#352a6e" />
<line x1="316.40" y1="75.92" x2="316.40" y2="77.64" stroke="#352a6e" stroke-width="0.6" />
<line x1="315.40" y1="75.92" x2="317.40" y2="75.92" stroke="#352a6e" stroke-width="0.5" />
<line x1="315.40" y1="77.64" x2="317.40" y2="77.64" stroke="#352a6e" stroke-width="0.5" />
<rect x="315.40" y="75.78" width="2.00" height="2.00" fill="#352a6e" />
<line x1="328.23" y1="76.35" x2="328.23" y2="78.94" stroke="#352a6e" stroke-width="0.6" />
<line x1="327.23" y1="76.35" x2="329.23" y2="76.35" stroke="#352a6e" stroke-width="0.5" />
<line x1="327.23" y1="78.94" x2="329.23" y2="78.94" stroke="#352a6e" stroke-width="0.5" />
<rect x="327.23" y="76.64" width="2.00" height="2.00" fill="#352a6e" />
<line x1="341.20" y1="80.24" x2="341.20" y2="82.83" stroke="#352a6e" stroke-width="0.6" />
<line x1="340.20" y1="80.24" x2="342.20" y2="80.24" stroke="#352a6e" stroke-width="0.5" />
<line x1="340.20" y1="82.83" x2="342.20" y2="82.83" stroke="#352a6e" stroke-width="0.5" />
<rect x="340.20" y="80.53" width="2.00" height="2.00" fill="#352a6e" />
<line x1="278.63" y1="50.43" x2="278.63" y2="57.34" stroke="#2f9fc8" stroke-width="0.6" />
<line x1="277.63" y1="50.43" x2="279.63" y2="50.43" stroke="#2f9fc8" stroke-width="0.5" />
<line x1="277.63" y1="57.34" x2="279.63" y2="57.34" stroke="#2f9fc8" stroke-width="0.5" />
<rect x="277.63" y="52.88" width="2.00" height="2.00" fill="#2f9fc8" />
<line x1="291.60" y1="63.82" x2="291.60" y2="66.41" stroke="#2f9fc8" stroke-width="0.6" />
<line x1="290.60" y1="63.82" x2="292.60" y2="63.82" stroke="#2f9fc8" stroke-width="0.5" />
<line x1="290.60" y1="66.41" x2="292.60" y2="66.41" stroke="#2f9fc8" stroke-width="0.5" />
<rect x="290.60" y="64.12" width="2.00" height="2.00" fill="#2f9fc8" />
<line x1="303.43" y1="60.80" x2="303.43" y2="63.39" stroke="#2f9fc8" stroke-width="0.6" />
<line x1="302.43" y1="60.80" x2="304.43" y2="60.80" stroke="#2f9fc8" stroke-width="0.5" />
<line x1="302.43" y1="63.39" x2="304.43" y2="63.39" stroke="#2f9fc8" stroke-width="0.5" />
<rect x="302.43" y="61.09" width="2.00" height="2.00" fill="#2f9fc8" />
<line x1="316.40" y1="70.30" x2="316.40" y2="72.03" stroke="#2f9fc8" stroke-width="0.6" />
<line x1="315.40" y1="70.30" x2="317.40" y2="70.30" stroke="#2f9fc8" stroke-width="0.5" />
<line x1="315.40" y1="72.03" x2="317.40" y2="72.03" stroke="#2f9fc8" stroke-width="0.5" />
<rect x="315.40" y="70.16" width="2.00" height="2.00" fill="#2f9fc8" />
<line x1="328.23" y1="75.48" x2="328.23" y2="78.08" stroke="#2f9fc8" stroke-width="0.6" />
<line x1="327.23" y1="75.48" x2="329.23" y2="75.48" stroke="#2f9fc8" stroke-width="0.5" />
<line x1="327.23" y1="78.08" x2="329.23" y2="78.08" stroke="#2f9fc8" stroke-width="0.5" />
<rect x="327.23" y="75.78" width="2.00" height="2.00" fill="#2f9fc8" />
<line x1="341.20" y1="78.51" x2="341.20" y2="81.10" stroke="#2f9fc8" stroke-width="0.6" />
<line x1="340.20" y1="78.51" x2="342.20" y2="78.51" stroke="#2f9fc8" stroke-width="0.5" />
<line x1="340.20" y1="81.10" x2="342.20" y2="81.10" stroke="#2f9fc8" stroke-width="0.5" />
<rect x="340.20" y="78.80" width="2.00" height="2.00" fill="#2f9fc8" />
<line x1="278.63" y1="43.95" x2="278.63" y2="46.54" stroke="#a8173f" stroke-width="0.6" />
<line x1="277.63" y1="43.95" x2="279.63" y2="43.95" stroke="#a8173f" stroke-width="0.5" />
<line x1="277.63" y1="46.54" x2="279.63" y2="46.54" stroke="#a8173f" stroke-width="0.5" />
<rect x="277.63" y="44.24" width="2.00" height="2.00" fill="#a8173f" />
<line x1="291.60" y1="46.54" x2="291.60" y2="50.86" stroke="#a8173f" stroke-width="0.6" />
<line x1="290.60" y1="46.54" x2="292.60" y2="46.54" stroke="#a8173f" stroke-width="0.5" />
<line x1="290.60" y1="50.86" x2="292.60" y2="50.86" stroke="#a8173f" stroke-width="0.5" />
<rect x="290.60" y="47.70" width="2.00" height="2.00" fill="#a8173f" />
<line x1="303.43" y1="42.22" x2="303.43" y2="43.95" stroke="#a8173f" stroke-width="0.6" />
<line x1="302.43" y1="42.22" x2="304.43" y2="42.22" stroke="#a8173f" stroke-width="0.5" />
<line x1="302.43" y1="43.95" x2="304.43" y2="43.95" stroke="#a8173f" stroke-width="0.5" />
<rect x="302.43" y="42.08" width="2.00" height="2.00" fill="#a8173f" />
<line x1="316.40" y1="46.97" x2="316.40" y2="48.70" stroke="#a8173f" stroke-width="0.6" />
<line x1="315.40" y1="46.97" x2="317.40" y2="46.97" stroke="#a8173f" stroke-width="0.5" />
<line x1="315.40" y1="48.70" x2="317.40" y2="48.70" stroke="#a8173f" stroke-width="0.5" />
<rect x="315.40" y="46.84" width="2.00" height="2.00" fill="#a8173f" />
<line x1="328.23" y1="50.86" x2="328.23" y2="52.59" stroke="#a8173f" stroke-width="0.6" />
<line x1="327.23" y1="50.86" x2="329.23" y2="50.86" stroke="#a8173f" stroke-width="0.5" />
<line x1="327.23" y1="52.59" x2="329.23" y2="52.59" stroke="#a8173f" stroke-width="0.5" />
<rect x="327.23" y="50.72" width="2.00" height="2.00" fill="#a8173f" />
<line x1="341.20" y1="60.80" x2="341.20" y2="63.39" stroke="#a8173f" stroke-width="0.6" />
<line x1="340.20" y1="60.80" x2="342.20" y2="60.80" stroke="#a8173f" stroke-width="0.5" />
<line x1="340.20" y1="63.39" x2="342.20" y2="63.39" stroke="#a8173f" stroke-width="0.5" />
<rect x="340.20" y="61.09" width="2.00" height="2.00" fill="#a8173f" />
<line x1="266.80" y1="37.90" x2="266.80" y2="92.40" stroke="#222" stroke-width="1.4" />
<line x1="266.10" y1="91.90" x2="342.70" y2="91.90" stroke="#222" stroke-width="1.4" />
<line x1="264.20" y1="91.90" x2="266.80" y2="91.90" stroke="#222" stroke-width="0.6" />
<line x1="265.00" y1="89.74" x2="266.80" y2="89.74" stroke="#222" stroke-width="0.6" />
<line x1="265.00" y1="87.58" x2="266.80" y2="87.58" stroke="#222" stroke-width="0.6" />
<line x1="265.00" y1="85.42" x2="266.80" y2="85.42" stroke="#222" stroke-width="0.6" />
<line x1="265.00" y1="83.26" x2="266.80" y2="83.26" stroke="#222" stroke-width="0.6" />
<line x1="265.00" y1="81.10" x2="266.80" y2="81.10" stroke="#222" stroke-width="0.6" />
<line x1="265.00" y1="78.94" x2="266.80" y2="78.94" stroke="#222" stroke-width="0.6" />
<line x1="265.00" y1="76.78" x2="266.80" y2="76.78" stroke="#222" stroke-width="0.6" />
<line x1="265.00" y1="74.62" x2="266.80" y2="74.62" stroke="#222" stroke-width="0.6" />
<line x1="265.00" y1="72.46" x2="266.80" y2="72.46" stroke="#222" stroke-width="0.6" />
<line x1="264.20" y1="70.30" x2="266.80" y2="70.30" stroke="#222" stroke-width="0.6" />
<line x1="265.00" y1="68.14" x2="266.80" y2="68.14" stroke="#222" stroke-width="0.6" />
<line x1="265.00" y1="65.98" x2="266.80" y2="65.98" stroke="#222" stroke-width="0.6" />
<line x1="265.00" y1="63.82" x2="266.80" y2="63.82" stroke="#222" stroke-width="0.6" />
<line x1="265.00" y1="61.66" x2="266.80" y2="61.66" stroke="#222" stroke-width="0.6" />
<line x1="265.00" y1="59.50" x2="266.80" y2="59.50" stroke="#222" stroke-width="0.6" />
<line x1="265.00" y1="57.34" x2="266.80" y2="57.34" stroke="#222" stroke-width="0.6" />
<line x1="265.00" y1="55.18" x2="266.80" y2="55.18" stroke="#222" stroke-width="0.6" />
<line x1="265.00" y1="53.02" x2="266.80" y2="53.02" stroke="#222" stroke-width="0.6" />
<line x1="265.00" y1="50.86" x2="266.80" y2="50.86" stroke="#222" stroke-width="0.6" />
<line x1="264.20" y1="48.70" x2="266.80" y2="48.70" stroke="#222" stroke-width="0.6" />
<line x1="265.00" y1="46.54" x2="266.80" y2="46.54" stroke="#222" stroke-width="0.6" />
<line x1="265.00" y1="44.38" x2="266.80" y2="44.38" stroke="#222" stroke-width="0.6" />
<line x1="265.00" y1="42.22" x2="266.80" y2="42.22" stroke="#222" stroke-width="0.6" />
<line x1="265.00" y1="40.06" x2="266.80" y2="40.06" stroke="#222" stroke-width="0.6" />
<line x1="265.00" y1="37.90" x2="266.80" y2="37.90" stroke="#222" stroke-width="0.6" />
<text x="261.30" y="94.00" font-size="6" text-anchor="end" font-weight="normal" font-style="normal" fill="#222" >0</text>
<text x="261.30" y="72.40" font-size="6" text-anchor="end" font-weight="normal" font-style="normal" fill="#222" >50</text>
<text x="261.30" y="50.80" font-size="6" text-anchor="end" font-weight="normal" font-style="normal" fill="#222" >100</text>
<line x1="266.80" y1="91.90" x2="266.80" y2="94.10" stroke="#222" stroke-width="0.7" />
<line x1="274.27" y1="91.90" x2="274.27" y2="93.10" stroke="#222" stroke-width="0.5" />
<line x1="278.63" y1="91.90" x2="278.63" y2="93.10" stroke="#222" stroke-width="0.5" />
<line x1="281.73" y1="91.90" x2="281.73" y2="93.10" stroke="#222" stroke-width="0.5" />
<line x1="284.13" y1="91.90" x2="284.13" y2="93.10" stroke="#222" stroke-width="0.5" />
<line x1="286.10" y1="91.90" x2="286.10" y2="93.10" stroke="#222" stroke-width="0.5" />
<line x1="287.76" y1="91.90" x2="287.76" y2="93.10" stroke="#222" stroke-width="0.5" />
<line x1="289.20" y1="91.90" x2="289.20" y2="93.10" stroke="#222" stroke-width="0.5" />
<line x1="290.47" y1="91.90" x2="290.47" y2="93.10" stroke="#222" stroke-width="0.5" />
<line x1="291.60" y1="91.90" x2="291.60" y2="94.10" stroke="#222" stroke-width="0.7" />
<line x1="299.07" y1="91.90" x2="299.07" y2="93.10" stroke="#222" stroke-width="0.5" />
<line x1="303.43" y1="91.90" x2="303.43" y2="93.10" stroke="#222" stroke-width="0.5" />
<line x1="306.53" y1="91.90" x2="306.53" y2="93.10" stroke="#222" stroke-width="0.5" />
<line x1="308.93" y1="91.90" x2="308.93" y2="93.10" stroke="#222" stroke-width="0.5" />
<line x1="310.90" y1="91.90" x2="310.90" y2="93.10" stroke="#222" stroke-width="0.5" />
<line x1="312.56" y1="91.90" x2="312.56" y2="93.10" stroke="#222" stroke-width="0.5" />
<line x1="314.00" y1="91.90" x2="314.00" y2="93.10" stroke="#222" stroke-width="0.5" />
<line x1="315.27" y1="91.90" x2="315.27" y2="93.10" stroke="#222" stroke-width="0.5" />
<line x1="316.40" y1="91.90" x2="316.40" y2="94.10" stroke="#222" stroke-width="0.7" />
<line x1="323.87" y1="91.90" x2="323.87" y2="93.10" stroke="#222" stroke-width="0.5" />
<line x1="328.23" y1="91.90" x2="328.23" y2="93.10" stroke="#222" stroke-width="0.5" />
<line x1="331.33" y1="91.90" x2="331.33" y2="93.10" stroke="#222" stroke-width="0.5" />
<line x1="333.73" y1="91.90" x2="333.73" y2="93.10" stroke="#222" stroke-width="0.5" />
<line x1="335.70" y1="91.90" x2="335.70" y2="93.10" stroke="#222" stroke-width="0.5" />
<line x1="337.36" y1="91.90" x2="337.36" y2="93.10" stroke="#222" stroke-width="0.5" />
<line x1="338.80" y1="91.90" x2="338.80" y2="93.10" stroke="#222" stroke-width="0.5" />
<line x1="340.07" y1="91.90" x2="340.07" y2="93.10" stroke="#222" stroke-width="0.5" />
<line x1="341.20" y1="91.90" x2="341.20" y2="94.10" stroke="#222" stroke-width="0.7" />
<text x="266.80" y="103.70" font-size="6" text-anchor="middle" font-weight="normal" font-style="normal" fill="#222" >0.01</text>
<text x="291.60" y="103.70" font-size="6" text-anchor="middle" font-weight="normal" font-style="normal" fill="#222" >0.1</text>
<text x="316.40" y="103.70" font-size="6" text-anchor="middle" font-weight="normal" font-style="normal" fill="#222" >1</text>
<text x="341.20" y="103.70" font-size="6" text-anchor="middle" font-weight="normal" font-style="normal" fill="#222" >10</text>
<text x="306.00" y="114.70" font-size="9" text-anchor="middle" font-weight="normal" font-style="normal" fill="#111" class="at" textLength="51" lengthAdjust="spacingAndGlyphs">Concentration (μM)</text>
<text transform="translate(244.80,65.60) rotate(-90)" x="0" y="0" font-size="7.4" text-anchor="middle" fill="#111" class="at" textLength="41" lengthAdjust="spacingAndGlyphs">Cell viability (%)</text>
<line x1="260.60" y1="125.80" x2="267.60" y2="125.80" stroke="#b9173f" stroke-width="1.0" />
<rect x="263.20" y="124.80" width="2.00" height="2.00" fill="#b9173f" />
<text x="270.10" y="128.00" font-size="6.2" text-anchor="start" font-weight="normal" font-style="normal" fill="#222" >AZA</text>
<line x1="288.10" y1="125.80" x2="295.10" y2="125.80" stroke="#3cb4dc" stroke-width="1.0" />
<rect x="290.70" y="124.80" width="2.00" height="2.00" fill="#3cb4dc" />
<text x="297.60" y="128.00" font-size="6.2" text-anchor="start" font-weight="normal" font-style="normal" fill="#222" >DAC</text>
<line x1="316.10" y1="125.80" x2="323.10" y2="125.80" stroke="#3b2c7a" stroke-width="1.0" />
<rect x="318.70" y="124.80" width="2.00" height="2.00" fill="#3b2c7a" />
<text x="325.60" y="128.00" font-size="6.2" text-anchor="start" font-weight="normal" font-style="normal" fill="#222" >OR-2100</text>
<text x="73.35" y="159.80" font-size="8.7" text-anchor="middle" fill="#222" class="ti" textLength="41.34" lengthAdjust="spacingAndGlyphs">SU-DHL-10</text>
<line x1="36.70" y1="198.25" x2="116.00" y2="198.25" stroke="#86a6b8" stroke-width="0.9" stroke-dasharray="1.1,1.1"/>
<polyline points="46.94,189.47 47.99,189.48 49.04,189.50 50.09,189.54 51.14,189.60 52.20,189.67 53.25,189.76 54.30,189.86 55.35,189.97 56.40,190.10 57.46,190.24 58.51,190.39 59.56,190.55 60.61,190.72 61.66,190.90 62.72,191.09 63.77,191.29 64.82,191.50 65.87,191.71 66.92,191.94 67.98,192.16 69.03,192.40 70.08,192.64 71.13,192.89 72.18,193.15 73.23,193.49 74.29,193.90 75.34,194.37 76.39,194.89 77.44,195.45 78.49,196.04 79.55,196.66 80.60,197.30 81.65,197.94 82.70,198.57 83.75,199.20 84.81,199.80 85.86,200.45 86.91,201.14 87.96,201.86 89.01,202.59 90.07,203.34 91.12,204.07 92.17,204.78 93.22,205.45 94.27,206.08 95.33,206.64 96.38,207.14 97.43,207.60 98.48,208.05 99.53,208.48 100.58,208.90 101.64,209.30 102.69,209.68 103.74,210.04 104.79,210.37 105.84,210.68 106.90,210.96 107.95,211.21 109.00,211.42" fill="none" stroke="#4a3a80" stroke-width="1.25"/>
<polyline points="46.94,189.47 47.99,189.48 49.04,189.51 50.09,189.56 51.14,189.62 52.20,189.70 53.25,189.80 54.30,189.91 55.35,190.04 56.40,190.19 57.46,190.34 58.51,190.51 59.56,190.69 60.61,190.89 61.66,191.09 62.72,191.31 63.77,191.53 64.82,191.76 65.87,192.01 66.92,192.25 67.98,192.51 69.03,192.77 70.08,193.04 71.13,193.31 72.18,193.61 73.23,193.98 74.29,194.42 75.34,194.93 76.39,195.49 77.44,196.10 78.49,196.73 79.55,197.39 80.60,198.07 81.65,198.74 82.70,199.41 83.75,200.06 84.81,200.69 85.86,201.35 86.91,202.06 87.96,202.79 89.01,203.54 90.07,204.29 91.12,205.02 92.17,205.72 93.22,206.39 94.27,207.00 95.33,207.54 96.38,208.01 97.43,208.44 98.48,208.86 99.53,209.27 100.58,209.66 101.64,210.03 102.69,210.37 103.74,210.70 104.79,211.00 105.84,211.26 106.90,211.50 107.95,211.70 109.00,211.86" fill="none" stroke="#48b8de" stroke-width="1.25"/>
<polyline points="46.94,180.69 47.99,180.69 49.04,180.71 50.09,180.73 51.14,180.76 52.20,180.80 53.25,180.84 54.30,180.90 55.35,180.96 56.40,181.03 57.46,181.11 58.51,181.20 59.56,181.29 60.61,181.40 61.66,181.51 62.72,181.62 63.77,181.75 64.82,181.88 65.87,182.02 66.92,182.16 67.98,182.32 69.03,182.48 70.08,182.64 71.13,182.82 72.18,183.02 73.23,183.33 74.29,183.75 75.34,184.27 76.39,184.87 77.44,185.55 78.49,186.30 79.55,187.10 80.60,187.95 81.65,188.83 82.70,189.74 83.75,190.66 84.81,191.59 85.86,192.64 86.91,193.80 87.96,195.08 89.01,196.45 90.07,197.90 91.12,199.42 92.17,201.02 93.22,202.87 94.27,204.89 95.33,206.91 96.38,208.75 97.43,210.52 98.48,212.27 99.53,213.93 100.58,215.44 101.64,216.74 102.69,217.99 103.74,219.14 104.79,219.88 105.84,220.05 106.90,220.13 107.95,220.18 109.00,220.20" fill="none" stroke="#cf2356" stroke-width="1.25"/>
<line x1="46.94" y1="188.15" x2="46.94" y2="190.79" stroke="#352a6e" stroke-width="0.6" />
<line x1="45.94" y1="188.15" x2="47.94" y2="188.15" stroke="#352a6e" stroke-width="0.5" />
<line x1="45.94" y1="190.79" x2="47.94" y2="190.79" stroke="#352a6e" stroke-width="0.5" />
<rect x="45.94" y="188.47" width="2.00" height="2.00" fill="#352a6e" />
<line x1="59.80" y1="195.62" x2="59.80" y2="198.25" stroke="#352a6e" stroke-width="0.6" />
<line x1="58.80" y1="195.62" x2="60.80" y2="195.62" stroke="#352a6e" stroke-width="0.5" />
<line x1="58.80" y1="198.25" x2="60.80" y2="198.25" stroke="#352a6e" stroke-width="0.5" />
<rect x="58.80" y="195.93" width="2.00" height="2.00" fill="#352a6e" />
<line x1="71.54" y1="192.54" x2="71.54" y2="195.18" stroke="#352a6e" stroke-width="0.6" />
<line x1="70.54" y1="192.54" x2="72.54" y2="192.54" stroke="#352a6e" stroke-width="0.5" />
<line x1="70.54" y1="195.18" x2="72.54" y2="195.18" stroke="#352a6e" stroke-width="0.5" />
<rect x="70.54" y="192.86" width="2.00" height="2.00" fill="#352a6e" />
<line x1="84.40" y1="201.32" x2="84.40" y2="203.96" stroke="#352a6e" stroke-width="0.6" />
<line x1="83.40" y1="201.32" x2="85.40" y2="201.32" stroke="#352a6e" stroke-width="0.5" />
<line x1="83.40" y1="203.96" x2="85.40" y2="203.96" stroke="#352a6e" stroke-width="0.5" />
<rect x="83.40" y="201.64" width="2.00" height="2.00" fill="#352a6e" />
<line x1="96.14" y1="207.03" x2="96.14" y2="210.54" stroke="#352a6e" stroke-width="0.6" />
<line x1="95.14" y1="207.03" x2="97.14" y2="207.03" stroke="#352a6e" stroke-width="0.5" />
<line x1="95.14" y1="210.54" x2="97.14" y2="210.54" stroke="#352a6e" stroke-width="0.5" />
<rect x="95.14" y="207.79" width="2.00" height="2.00" fill="#352a6e" />
<line x1="109.00" y1="210.54" x2="109.00" y2="212.30" stroke="#352a6e" stroke-width="0.6" />
<line x1="108.00" y1="210.54" x2="110.00" y2="210.54" stroke="#352a6e" stroke-width="0.5" />
<line x1="108.00" y1="212.30" x2="110.00" y2="212.30" stroke="#352a6e" stroke-width="0.5" />
<rect x="108.00" y="210.42" width="2.00" height="2.00" fill="#352a6e" />
<line x1="46.94" y1="182.88" x2="46.94" y2="187.28" stroke="#2f9fc8" stroke-width="0.6" />
<line x1="45.94" y1="182.88" x2="47.94" y2="182.88" stroke="#2f9fc8" stroke-width="0.5" />
<line x1="45.94" y1="187.28" x2="47.94" y2="187.28" stroke="#2f9fc8" stroke-width="0.5" />
<rect x="45.94" y="184.08" width="2.00" height="2.00" fill="#2f9fc8" />
<line x1="59.80" y1="194.74" x2="59.80" y2="197.37" stroke="#2f9fc8" stroke-width="0.6" />
<line x1="58.80" y1="194.74" x2="60.80" y2="194.74" stroke="#2f9fc8" stroke-width="0.5" />
<line x1="58.80" y1="197.37" x2="60.80" y2="197.37" stroke="#2f9fc8" stroke-width="0.5" />
<rect x="58.80" y="195.06" width="2.00" height="2.00" fill="#2f9fc8" />
<line x1="71.54" y1="191.23" x2="71.54" y2="194.74" stroke="#2f9fc8" stroke-width="0.6" />
<line x1="70.54" y1="191.23" x2="72.54" y2="191.23" stroke="#2f9fc8" stroke-width="0.5" />
<line x1="70.54" y1="194.74" x2="72.54" y2="194.74" stroke="#2f9fc8" stroke-width="0.5" />
<rect x="70.54" y="191.98" width="2.00" height="2.00" fill="#2f9fc8" />
<line x1="84.40" y1="202.20" x2="84.40" y2="204.84" stroke="#2f9fc8" stroke-width="0.6" />
<line x1="83.40" y1="202.20" x2="85.40" y2="202.20" stroke="#2f9fc8" stroke-width="0.5" />
<line x1="83.40" y1="204.84" x2="85.40" y2="204.84" stroke="#2f9fc8" stroke-width="0.5" />
<rect x="83.40" y="202.52" width="2.00" height="2.00" fill="#2f9fc8" />
<line x1="96.14" y1="209.22" x2="96.14" y2="211.86" stroke="#2f9fc8" stroke-width="0.6" />
<line x1="95.14" y1="209.22" x2="97.14" y2="209.22" stroke="#2f9fc8" stroke-width="0.5" />
<line x1="95.14" y1="211.86" x2="97.14" y2="211.86" stroke="#2f9fc8" stroke-width="0.5" />
<rect x="95.14" y="209.54" width="2.00" height="2.00" fill="#2f9fc8" />
<line x1="109.00" y1="210.98" x2="109.00" y2="213.61" stroke="#2f9fc8" stroke-width="0.6" />
<line x1="108.00" y1="210.98" x2="110.00" y2="210.98" stroke="#2f9fc8" stroke-width="0.5" />
<line x1="108.00" y1="213.61" x2="110.00" y2="213.61" stroke="#2f9fc8" stroke-width="0.5" />
<rect x="108.00" y="211.30" width="2.00" height="2.00" fill="#2f9fc8" />
<line x1="46.94" y1="171.91" x2="46.94" y2="180.69" stroke="#a8173f" stroke-width="0.6" />
<line x1="45.94" y1="171.91" x2="47.94" y2="171.91" stroke="#a8173f" stroke-width="0.5" />
<line x1="45.94" y1="180.69" x2="47.94" y2="180.69" stroke="#a8173f" stroke-width="0.5" />
<rect x="45.94" y="175.30" width="2.00" height="2.00" fill="#a8173f" />
<line x1="59.80" y1="184.20" x2="59.80" y2="190.35" stroke="#a8173f" stroke-width="0.6" />
<line x1="58.80" y1="184.20" x2="60.80" y2="184.20" stroke="#a8173f" stroke-width="0.5" />
<line x1="58.80" y1="190.35" x2="60.80" y2="190.35" stroke="#a8173f" stroke-width="0.5" />
<rect x="58.80" y="186.28" width="2.00" height="2.00" fill="#a8173f" />
<line x1="71.54" y1="182.45" x2="71.54" y2="185.08" stroke="#a8173f" stroke-width="0.6" />
<line x1="70.54" y1="182.45" x2="72.54" y2="182.45" stroke="#a8173f" stroke-width="0.5" />
<line x1="70.54" y1="185.08" x2="72.54" y2="185.08" stroke="#a8173f" stroke-width="0.5" />
<rect x="70.54" y="182.76" width="2.00" height="2.00" fill="#a8173f" />
<line x1="84.40" y1="190.79" x2="84.40" y2="194.30" stroke="#a8173f" stroke-width="0.6" />
<line x1="83.40" y1="190.79" x2="85.40" y2="190.79" stroke="#a8173f" stroke-width="0.5" />
<line x1="83.40" y1="194.30" x2="85.40" y2="194.30" stroke="#a8173f" stroke-width="0.5" />
<rect x="83.40" y="191.54" width="2.00" height="2.00" fill="#a8173f" />
<line x1="96.14" y1="208.79" x2="96.14" y2="211.42" stroke="#a8173f" stroke-width="0.6" />
<line x1="95.14" y1="208.79" x2="97.14" y2="208.79" stroke="#a8173f" stroke-width="0.5" />
<line x1="95.14" y1="211.42" x2="97.14" y2="211.42" stroke="#a8173f" stroke-width="0.5" />
<rect x="95.14" y="209.10" width="2.00" height="2.00" fill="#a8173f" />
<line x1="109.00" y1="219.76" x2="109.00" y2="220.64" stroke="#a8173f" stroke-width="0.6" />
<line x1="108.00" y1="219.76" x2="110.00" y2="219.76" stroke="#a8173f" stroke-width="0.5" />
<line x1="108.00" y1="220.64" x2="110.00" y2="220.64" stroke="#a8173f" stroke-width="0.5" />
<rect x="108.00" y="219.20" width="2.00" height="2.00" fill="#a8173f" />
<line x1="35.20" y1="165.33" x2="35.20" y2="220.70" stroke="#222" stroke-width="1.4" />
<line x1="34.50" y1="220.20" x2="110.50" y2="220.20" stroke="#222" stroke-width="1.4" />
<line x1="32.60" y1="220.20" x2="35.20" y2="220.20" stroke="#222" stroke-width="0.6" />
<line x1="33.40" y1="218.00" x2="35.20" y2="218.00" stroke="#222" stroke-width="0.6" />
<line x1="33.40" y1="215.81" x2="35.20" y2="215.81" stroke="#222" stroke-width="0.6" />
<line x1="33.40" y1="213.61" x2="35.20" y2="213.61" stroke="#222" stroke-width="0.6" />
<line x1="33.40" y1="211.42" x2="35.20" y2="211.42" stroke="#222" stroke-width="0.6" />
<line x1="33.40" y1="209.22" x2="35.20" y2="209.22" stroke="#222" stroke-width="0.6" />
<line x1="33.40" y1="207.03" x2="35.20" y2="207.03" stroke="#222" stroke-width="0.6" />
<line x1="33.40" y1="204.84" x2="35.20" y2="204.84" stroke="#222" stroke-width="0.6" />
<line x1="33.40" y1="202.64" x2="35.20" y2="202.64" stroke="#222" stroke-width="0.6" />
<line x1="33.40" y1="200.44" x2="35.20" y2="200.44" stroke="#222" stroke-width="0.6" />
<line x1="32.60" y1="198.25" x2="35.20" y2="198.25" stroke="#222" stroke-width="0.6" />
<line x1="33.40" y1="196.06" x2="35.20" y2="196.06" stroke="#222" stroke-width="0.6" />
<line x1="33.40" y1="193.86" x2="35.20" y2="193.86" stroke="#222" stroke-width="0.6" />
<line x1="33.40" y1="191.66" x2="35.20" y2="191.66" stroke="#222" stroke-width="0.6" />
<line x1="33.40" y1="189.47" x2="35.20" y2="189.47" stroke="#222" stroke-width="0.6" />
<line x1="33.40" y1="187.28" x2="35.20" y2="187.28" stroke="#222" stroke-width="0.6" />
<line x1="33.40" y1="185.08" x2="35.20" y2="185.08" stroke="#222" stroke-width="0.6" />
<line x1="33.40" y1="182.88" x2="35.20" y2="182.88" stroke="#222" stroke-width="0.6" />
<line x1="33.40" y1="180.69" x2="35.20" y2="180.69" stroke="#222" stroke-width="0.6" />
<line x1="33.40" y1="178.50" x2="35.20" y2="178.50" stroke="#222" stroke-width="0.6" />
<line x1="32.60" y1="176.30" x2="35.20" y2="176.30" stroke="#222" stroke-width="0.6" />
<line x1="33.40" y1="174.11" x2="35.20" y2="174.11" stroke="#222" stroke-width="0.6" />
<line x1="33.40" y1="171.91" x2="35.20" y2="171.91" stroke="#222" stroke-width="0.6" />
<line x1="33.40" y1="169.72" x2="35.20" y2="169.72" stroke="#222" stroke-width="0.6" />
<line x1="33.40" y1="167.52" x2="35.20" y2="167.52" stroke="#222" stroke-width="0.6" />
<line x1="33.40" y1="165.33" x2="35.20" y2="165.33" stroke="#222" stroke-width="0.6" />
<text x="29.70" y="222.30" font-size="6" text-anchor="end" font-weight="normal" font-style="normal" fill="#222" >0</text>
<text x="29.70" y="200.35" font-size="6" text-anchor="end" font-weight="normal" font-style="normal" fill="#222" >50</text>
<text x="29.70" y="178.40" font-size="6" text-anchor="end" font-weight="normal" font-style="normal" fill="#222" >100</text>
<line x1="35.20" y1="220.20" x2="35.20" y2="222.40" stroke="#222" stroke-width="0.7" />
<line x1="42.61" y1="220.20" x2="42.61" y2="221.40" stroke="#222" stroke-width="0.5" />
<line x1="46.94" y1="220.20" x2="46.94" y2="221.40" stroke="#222" stroke-width="0.5" />
<line x1="50.01" y1="220.20" x2="50.01" y2="221.40" stroke="#222" stroke-width="0.5" />
<line x1="52.39" y1="220.20" x2="52.39" y2="221.40" stroke="#222" stroke-width="0.5" />
<line x1="54.34" y1="220.20" x2="54.34" y2="221.40" stroke="#222" stroke-width="0.5" />
<line x1="55.99" y1="220.20" x2="55.99" y2="221.40" stroke="#222" stroke-width="0.5" />
<line x1="57.42" y1="220.20" x2="57.42" y2="221.40" stroke="#222" stroke-width="0.5" />
<line x1="58.67" y1="220.20" x2="58.67" y2="221.40" stroke="#222" stroke-width="0.5" />
<line x1="59.80" y1="220.20" x2="59.80" y2="222.40" stroke="#222" stroke-width="0.7" />
<line x1="67.21" y1="220.20" x2="67.21" y2="221.40" stroke="#222" stroke-width="0.5" />
<line x1="71.54" y1="220.20" x2="71.54" y2="221.40" stroke="#222" stroke-width="0.5" />
<line x1="74.61" y1="220.20" x2="74.61" y2="221.40" stroke="#222" stroke-width="0.5" />
<line x1="76.99" y1="220.20" x2="76.99" y2="221.40" stroke="#222" stroke-width="0.5" />
<line x1="78.94" y1="220.20" x2="78.94" y2="221.40" stroke="#222" stroke-width="0.5" />
<line x1="80.59" y1="220.20" x2="80.59" y2="221.40" stroke="#222" stroke-width="0.5" />
<line x1="82.02" y1="220.20" x2="82.02" y2="221.40" stroke="#222" stroke-width="0.5" />
<line x1="83.27" y1="220.20" x2="83.27" y2="221.40" stroke="#222" stroke-width="0.5" />
<line x1="84.40" y1="220.20" x2="84.40" y2="222.40" stroke="#222" stroke-width="0.7" />
<line x1="91.81" y1="220.20" x2="91.81" y2="221.40" stroke="#222" stroke-width="0.5" />
<line x1="96.14" y1="220.20" x2="96.14" y2="221.40" stroke="#222" stroke-width="0.5" />
<line x1="99.21" y1="220.20" x2="99.21" y2="221.40" stroke="#222" stroke-width="0.5" />
<line x1="101.59" y1="220.20" x2="101.59" y2="221.40" stroke="#222" stroke-width="0.5" />
<line x1="103.54" y1="220.20" x2="103.54" y2="221.40" stroke="#222" stroke-width="0.5" />
<line x1="105.19" y1="220.20" x2="105.19" y2="221.40" stroke="#222" stroke-width="0.5" />
<line x1="106.62" y1="220.20" x2="106.62" y2="221.40" stroke="#222" stroke-width="0.5" />
<line x1="107.87" y1="220.20" x2="107.87" y2="221.40" stroke="#222" stroke-width="0.5" />
<line x1="109.00" y1="220.20" x2="109.00" y2="222.40" stroke="#222" stroke-width="0.7" />
<text x="35.20" y="232.00" font-size="6" text-anchor="middle" font-weight="normal" font-style="normal" fill="#222" >0.01</text>
<text x="59.80" y="232.00" font-size="6" text-anchor="middle" font-weight="normal" font-style="normal" fill="#222" >0.1</text>
<text x="84.40" y="232.00" font-size="6" text-anchor="middle" font-weight="normal" font-style="normal" fill="#222" >1</text>
<text x="109.00" y="232.00" font-size="6" text-anchor="middle" font-weight="normal" font-style="normal" fill="#222" >10</text>
<text x="74.10" y="243.00" font-size="9" text-anchor="middle" font-weight="normal" font-style="normal" fill="#111" class="at" textLength="51" lengthAdjust="spacingAndGlyphs">Concentration (μM)</text>
<text transform="translate(13.20,193.46) rotate(-90)" x="0" y="0" font-size="7.4" text-anchor="middle" fill="#111" class="at" textLength="41" lengthAdjust="spacingAndGlyphs">Cell viability (%)</text>
<line x1="29.00" y1="253.20" x2="36.00" y2="253.20" stroke="#b9173f" stroke-width="1.0" />
<rect x="31.60" y="252.20" width="2.00" height="2.00" fill="#b9173f" />
<text x="38.50" y="255.40" font-size="6.2" text-anchor="start" font-weight="normal" font-style="normal" fill="#222" >AZA</text>
<line x1="56.50" y1="253.20" x2="63.50" y2="253.20" stroke="#3cb4dc" stroke-width="1.0" />
<rect x="59.10" y="252.20" width="2.00" height="2.00" fill="#3cb4dc" />
<text x="66.00" y="255.40" font-size="6.2" text-anchor="start" font-weight="normal" font-style="normal" fill="#222" >DAC</text>
<line x1="84.50" y1="253.20" x2="91.50" y2="253.20" stroke="#3b2c7a" stroke-width="1.0" />
<rect x="87.10" y="252.20" width="2.00" height="2.00" fill="#3b2c7a" />
<text x="94.00" y="255.40" font-size="6.2" text-anchor="start" font-weight="normal" font-style="normal" fill="#222" >OR-2100</text>
<text x="189.00" y="159.90" font-size="8.7" text-anchor="middle" fill="#222" class="ti" textLength="46.23" lengthAdjust="spacingAndGlyphs">WSU-DLCL2</text>
<line x1="152.20" y1="198.50" x2="230.00" y2="198.50" stroke="#5b7384" stroke-width="0.9" stroke-dasharray="1.1,1.1"/>
<polyline points="162.48,181.70 163.54,181.72 164.60,181.77 165.65,181.84 166.71,181.95 167.77,182.08 168.82,182.24 169.88,182.42 170.93,182.63 171.99,182.86 173.05,183.11 174.10,183.38 175.16,183.66 176.22,183.97 177.27,184.29 178.33,184.63 179.38,184.98 180.44,185.35 181.50,185.72 182.55,186.11 183.61,186.50 184.66,186.91 185.72,187.32 186.78,187.73 187.83,188.18 188.89,188.75 189.95,189.44 191.00,190.22 192.06,191.07 193.11,191.98 194.17,192.91 195.23,193.85 196.28,194.77 197.34,195.65 198.40,196.47 199.45,197.21 200.51,197.86 201.56,198.50 202.62,199.16 203.68,199.81 204.73,200.45 205.79,201.07 206.84,201.64 207.90,202.15 208.96,202.60 210.01,202.96 211.07,203.23 212.13,203.39 213.18,203.51 214.24,203.63 215.29,203.74 216.35,203.84 217.41,203.93 218.46,204.01 219.52,204.08 220.58,204.14 221.63,204.18 222.69,204.22 223.74,204.24 224.80,204.25" fill="none" stroke="#4a3a80" stroke-width="1.25"/>
<polyline points="162.48,179.94 163.54,179.95 164.60,179.99 165.65,180.05 166.71,180.14 167.77,180.24 168.82,180.38 169.88,180.53 170.93,180.70 171.99,180.89 173.05,181.10 174.10,181.33 175.16,181.57 176.22,181.83 177.27,182.10 178.33,182.39 179.38,182.69 180.44,183.01 181.50,183.33 182.55,183.67 183.61,184.01 184.66,184.36 185.72,184.73 186.78,185.10 187.83,185.50 188.89,186.02 189.95,186.66 191.00,187.39 192.06,188.20 193.11,189.07 194.17,189.99 195.23,190.92 196.28,191.85 197.34,192.77 198.40,193.66 199.45,194.49 200.51,195.26 201.56,196.07 202.62,196.93 203.68,197.82 204.73,198.70 205.79,199.56 206.84,200.38 207.90,201.13 208.96,201.78 210.01,202.32 211.07,202.72 212.13,202.96 213.18,203.15 214.24,203.32 215.29,203.48 216.35,203.63 217.41,203.77 218.46,203.89 219.52,203.99 220.58,204.08 221.63,204.15 222.69,204.20 223.74,204.24 224.80,204.25" fill="none" stroke="#48b8de" stroke-width="1.25"/>
<polyline points="162.48,175.07 163.54,175.07 164.60,175.08 165.65,175.08 166.71,175.09 167.77,175.09 168.82,175.10 169.88,175.11 170.93,175.12 171.99,175.13 173.05,175.15 174.10,175.16 175.16,175.18 176.22,175.20 177.27,175.22 178.33,175.25 179.38,175.27 180.44,175.30 181.50,175.33 182.55,175.36 183.61,175.39 184.66,175.43 185.72,175.46 186.78,175.50 187.83,175.56 188.89,175.72 189.95,175.98 191.00,176.34 192.06,176.77 193.11,177.29 194.17,177.88 195.23,178.53 196.28,179.24 197.34,179.99 198.40,180.79 199.45,181.62 200.51,182.50 201.56,183.66 202.62,185.09 203.68,186.77 204.73,188.62 205.79,190.62 206.84,192.70 207.90,194.85 208.96,197.42 210.01,200.27 211.07,203.12 212.13,205.69 213.18,208.18 214.24,210.65 215.29,212.97 216.35,215.02 217.41,216.68 218.46,218.15 219.52,219.46 220.58,220.27 221.63,220.45 222.69,220.53 223.74,220.58 224.80,220.60" fill="none" stroke="#cf2356" stroke-width="1.25"/>
<line x1="162.48" y1="179.49" x2="162.48" y2="183.91" stroke="#352a6e" stroke-width="0.6" />
<line x1="161.48" y1="179.49" x2="163.48" y2="179.49" stroke="#352a6e" stroke-width="0.5" />
<line x1="161.48" y1="183.91" x2="163.48" y2="183.91" stroke="#352a6e" stroke-width="0.5" />
<rect x="161.48" y="180.70" width="2.00" height="2.00" fill="#352a6e" />
<line x1="175.40" y1="180.82" x2="175.40" y2="187.89" stroke="#352a6e" stroke-width="0.6" />
<line x1="174.40" y1="180.82" x2="176.40" y2="180.82" stroke="#352a6e" stroke-width="0.5" />
<line x1="174.40" y1="187.89" x2="176.40" y2="187.89" stroke="#352a6e" stroke-width="0.5" />
<rect x="174.40" y="183.36" width="2.00" height="2.00" fill="#352a6e" />
<line x1="187.18" y1="186.12" x2="187.18" y2="193.20" stroke="#352a6e" stroke-width="0.6" />
<line x1="186.18" y1="186.12" x2="188.18" y2="186.12" stroke="#352a6e" stroke-width="0.5" />
<line x1="186.18" y1="193.20" x2="188.18" y2="193.20" stroke="#352a6e" stroke-width="0.5" />
<rect x="186.18" y="188.66" width="2.00" height="2.00" fill="#352a6e" />
<line x1="200.10" y1="196.29" x2="200.10" y2="198.94" stroke="#352a6e" stroke-width="0.6" />
<line x1="199.10" y1="196.29" x2="201.10" y2="196.29" stroke="#352a6e" stroke-width="0.5" />
<line x1="199.10" y1="198.94" x2="201.10" y2="198.94" stroke="#352a6e" stroke-width="0.5" />
<rect x="199.10" y="196.62" width="2.00" height="2.00" fill="#352a6e" />
<line x1="211.88" y1="201.59" x2="211.88" y2="204.25" stroke="#352a6e" stroke-width="0.6" />
<line x1="210.88" y1="201.59" x2="212.88" y2="201.59" stroke="#352a6e" stroke-width="0.5" />
<line x1="210.88" y1="204.25" x2="212.88" y2="204.25" stroke="#352a6e" stroke-width="0.5" />
<rect x="210.88" y="201.92" width="2.00" height="2.00" fill="#352a6e" />
<line x1="224.80" y1="202.92" x2="224.80" y2="205.57" stroke="#352a6e" stroke-width="0.6" />
<line x1="223.80" y1="202.92" x2="225.80" y2="202.92" stroke="#352a6e" stroke-width="0.5" />
<line x1="223.80" y1="205.57" x2="225.80" y2="205.57" stroke="#352a6e" stroke-width="0.5" />
<rect x="223.80" y="203.25" width="2.00" height="2.00" fill="#352a6e" />
<line x1="162.48" y1="176.84" x2="162.48" y2="182.15" stroke="#2f9fc8" stroke-width="0.6" />
<line x1="161.48" y1="176.84" x2="163.48" y2="176.84" stroke="#2f9fc8" stroke-width="0.5" />
<line x1="161.48" y1="182.15" x2="163.48" y2="182.15" stroke="#2f9fc8" stroke-width="0.5" />
<rect x="161.48" y="178.49" width="2.00" height="2.00" fill="#2f9fc8" />
<line x1="175.40" y1="178.61" x2="175.40" y2="184.80" stroke="#2f9fc8" stroke-width="0.6" />
<line x1="174.40" y1="178.61" x2="176.40" y2="178.61" stroke="#2f9fc8" stroke-width="0.5" />
<line x1="174.40" y1="184.80" x2="176.40" y2="184.80" stroke="#2f9fc8" stroke-width="0.5" />
<rect x="174.40" y="180.70" width="2.00" height="2.00" fill="#2f9fc8" />
<line x1="187.18" y1="183.47" x2="187.18" y2="189.66" stroke="#2f9fc8" stroke-width="0.6" />
<line x1="186.18" y1="183.47" x2="188.18" y2="183.47" stroke="#2f9fc8" stroke-width="0.5" />
<line x1="186.18" y1="189.66" x2="188.18" y2="189.66" stroke="#2f9fc8" stroke-width="0.5" />
<rect x="186.18" y="185.57" width="2.00" height="2.00" fill="#2f9fc8" />
<line x1="200.10" y1="192.75" x2="200.10" y2="197.17" stroke="#2f9fc8" stroke-width="0.6" />
<line x1="199.10" y1="192.75" x2="201.10" y2="192.75" stroke="#2f9fc8" stroke-width="0.5" />
<line x1="199.10" y1="197.17" x2="201.10" y2="197.17" stroke="#2f9fc8" stroke-width="0.5" />
<rect x="199.10" y="193.96" width="2.00" height="2.00" fill="#2f9fc8" />
<line x1="211.88" y1="198.50" x2="211.88" y2="202.92" stroke="#2f9fc8" stroke-width="0.6" />
<line x1="210.88" y1="198.50" x2="212.88" y2="198.50" stroke="#2f9fc8" stroke-width="0.5" />
<line x1="210.88" y1="202.92" x2="212.88" y2="202.92" stroke="#2f9fc8" stroke-width="0.5" />
<rect x="210.88" y="199.71" width="2.00" height="2.00" fill="#2f9fc8" />
<line x1="224.80" y1="203.80" x2="224.80" y2="206.46" stroke="#2f9fc8" stroke-width="0.6" />
<line x1="223.80" y1="203.80" x2="225.80" y2="203.80" stroke="#2f9fc8" stroke-width="0.5" />
<line x1="223.80" y1="206.46" x2="225.80" y2="206.46" stroke="#2f9fc8" stroke-width="0.5" />
<rect x="223.80" y="204.13" width="2.00" height="2.00" fill="#2f9fc8" />
<line x1="162.48" y1="174.19" x2="162.48" y2="178.61" stroke="#a8173f" stroke-width="0.6" />
<line x1="161.48" y1="174.19" x2="163.48" y2="174.19" stroke="#a8173f" stroke-width="0.5" />
<line x1="161.48" y1="178.61" x2="163.48" y2="178.61" stroke="#a8173f" stroke-width="0.5" />
<rect x="161.48" y="175.40" width="2.00" height="2.00" fill="#a8173f" />
<line x1="175.40" y1="173.31" x2="175.40" y2="177.73" stroke="#a8173f" stroke-width="0.6" />
<line x1="174.40" y1="173.31" x2="176.40" y2="173.31" stroke="#a8173f" stroke-width="0.5" />
<line x1="174.40" y1="177.73" x2="176.40" y2="177.73" stroke="#a8173f" stroke-width="0.5" />
<rect x="174.40" y="174.52" width="2.00" height="2.00" fill="#a8173f" />
<line x1="187.18" y1="175.07" x2="187.18" y2="177.73" stroke="#a8173f" stroke-width="0.6" />
<line x1="186.18" y1="175.07" x2="188.18" y2="175.07" stroke="#a8173f" stroke-width="0.5" />
<line x1="186.18" y1="177.73" x2="188.18" y2="177.73" stroke="#a8173f" stroke-width="0.5" />
<rect x="186.18" y="175.40" width="2.00" height="2.00" fill="#a8173f" />
<line x1="200.10" y1="182.15" x2="200.10" y2="183.91" stroke="#a8173f" stroke-width="0.6" />
<line x1="199.10" y1="182.15" x2="201.10" y2="182.15" stroke="#a8173f" stroke-width="0.5" />
<line x1="199.10" y1="183.91" x2="201.10" y2="183.91" stroke="#a8173f" stroke-width="0.5" />
<rect x="199.10" y="182.03" width="2.00" height="2.00" fill="#a8173f" />
<line x1="211.88" y1="204.69" x2="211.88" y2="207.34" stroke="#a8173f" stroke-width="0.6" />
<line x1="210.88" y1="204.69" x2="212.88" y2="204.69" stroke="#a8173f" stroke-width="0.5" />
<line x1="210.88" y1="207.34" x2="212.88" y2="207.34" stroke="#a8173f" stroke-width="0.5" />
<rect x="210.88" y="205.01" width="2.00" height="2.00" fill="#a8173f" />
<line x1="224.80" y1="220.16" x2="224.80" y2="221.04" stroke="#a8173f" stroke-width="0.6" />
<line x1="223.80" y1="220.16" x2="225.80" y2="220.16" stroke="#a8173f" stroke-width="0.5" />
<line x1="223.80" y1="221.04" x2="225.80" y2="221.04" stroke="#a8173f" stroke-width="0.5" />
<rect x="223.80" y="219.60" width="2.00" height="2.00" fill="#a8173f" />
<line x1="150.70" y1="165.35" x2="150.70" y2="221.10" stroke="#222" stroke-width="1.4" />
<line x1="150.00" y1="220.60" x2="226.30" y2="220.60" stroke="#222" stroke-width="1.4" />
<line x1="148.10" y1="220.60" x2="150.70" y2="220.60" stroke="#222" stroke-width="0.6" />
<line x1="148.90" y1="218.39" x2="150.70" y2="218.39" stroke="#222" stroke-width="0.6" />
<line x1="148.90" y1="216.18" x2="150.70" y2="216.18" stroke="#222" stroke-width="0.6" />
<line x1="148.90" y1="213.97" x2="150.70" y2="213.97" stroke="#222" stroke-width="0.6" />
<line x1="148.90" y1="211.76" x2="150.70" y2="211.76" stroke="#222" stroke-width="0.6" />
<line x1="148.90" y1="209.55" x2="150.70" y2="209.55" stroke="#222" stroke-width="0.6" />
<line x1="148.90" y1="207.34" x2="150.70" y2="207.34" stroke="#222" stroke-width="0.6" />
<line x1="148.90" y1="205.13" x2="150.70" y2="205.13" stroke="#222" stroke-width="0.6" />
<line x1="148.90" y1="202.92" x2="150.70" y2="202.92" stroke="#222" stroke-width="0.6" />
<line x1="148.90" y1="200.71" x2="150.70" y2="200.71" stroke="#222" stroke-width="0.6" />
<line x1="148.10" y1="198.50" x2="150.70" y2="198.50" stroke="#222" stroke-width="0.6" />
<line x1="148.90" y1="196.29" x2="150.70" y2="196.29" stroke="#222" stroke-width="0.6" />
<line x1="148.90" y1="194.08" x2="150.70" y2="194.08" stroke="#222" stroke-width="0.6" />
<line x1="148.90" y1="191.87" x2="150.70" y2="191.87" stroke="#222" stroke-width="0.6" />
<line x1="148.90" y1="189.66" x2="150.70" y2="189.66" stroke="#222" stroke-width="0.6" />
<line x1="148.90" y1="187.45" x2="150.70" y2="187.45" stroke="#222" stroke-width="0.6" />
<line x1="148.90" y1="185.24" x2="150.70" y2="185.24" stroke="#222" stroke-width="0.6" />
<line x1="148.90" y1="183.03" x2="150.70" y2="183.03" stroke="#222" stroke-width="0.6" />
<line x1="148.90" y1="180.82" x2="150.70" y2="180.82" stroke="#222" stroke-width="0.6" />
<line x1="148.90" y1="178.61" x2="150.70" y2="178.61" stroke="#222" stroke-width="0.6" />
<line x1="148.10" y1="176.40" x2="150.70" y2="176.40" stroke="#222" stroke-width="0.6" />
<line x1="148.90" y1="174.19" x2="150.70" y2="174.19" stroke="#222" stroke-width="0.6" />
<line x1="148.90" y1="171.98" x2="150.70" y2="171.98" stroke="#222" stroke-width="0.6" />
<line x1="148.90" y1="169.77" x2="150.70" y2="169.77" stroke="#222" stroke-width="0.6" />
<line x1="148.90" y1="167.56" x2="150.70" y2="167.56" stroke="#222" stroke-width="0.6" />
<line x1="148.90" y1="165.35" x2="150.70" y2="165.35" stroke="#222" stroke-width="0.6" />
<text x="145.20" y="222.70" font-size="6" text-anchor="end" font-weight="normal" font-style="normal" fill="#222" >0</text>
<text x="145.20" y="200.60" font-size="6" text-anchor="end" font-weight="normal" font-style="normal" fill="#222" >50</text>
<text x="145.20" y="178.50" font-size="6" text-anchor="end" font-weight="normal" font-style="normal" fill="#222" >100</text>
<line x1="150.70" y1="220.60" x2="150.70" y2="222.80" stroke="#222" stroke-width="0.7" />
<line x1="158.14" y1="220.60" x2="158.14" y2="221.80" stroke="#222" stroke-width="0.5" />
<line x1="162.48" y1="220.60" x2="162.48" y2="221.80" stroke="#222" stroke-width="0.5" />
<line x1="165.57" y1="220.60" x2="165.57" y2="221.80" stroke="#222" stroke-width="0.5" />
<line x1="167.96" y1="220.60" x2="167.96" y2="221.80" stroke="#222" stroke-width="0.5" />
<line x1="169.92" y1="220.60" x2="169.92" y2="221.80" stroke="#222" stroke-width="0.5" />
<line x1="171.57" y1="220.60" x2="171.57" y2="221.80" stroke="#222" stroke-width="0.5" />
<line x1="173.01" y1="220.60" x2="173.01" y2="221.80" stroke="#222" stroke-width="0.5" />
<line x1="174.27" y1="220.60" x2="174.27" y2="221.80" stroke="#222" stroke-width="0.5" />
<line x1="175.40" y1="220.60" x2="175.40" y2="222.80" stroke="#222" stroke-width="0.7" />
<line x1="182.84" y1="220.60" x2="182.84" y2="221.80" stroke="#222" stroke-width="0.5" />
<line x1="187.18" y1="220.60" x2="187.18" y2="221.80" stroke="#222" stroke-width="0.5" />
<line x1="190.27" y1="220.60" x2="190.27" y2="221.80" stroke="#222" stroke-width="0.5" />
<line x1="192.66" y1="220.60" x2="192.66" y2="221.80" stroke="#222" stroke-width="0.5" />
<line x1="194.62" y1="220.60" x2="194.62" y2="221.80" stroke="#222" stroke-width="0.5" />
<line x1="196.27" y1="220.60" x2="196.27" y2="221.80" stroke="#222" stroke-width="0.5" />
<line x1="197.71" y1="220.60" x2="197.71" y2="221.80" stroke="#222" stroke-width="0.5" />
<line x1="198.97" y1="220.60" x2="198.97" y2="221.80" stroke="#222" stroke-width="0.5" />
<line x1="200.10" y1="220.60" x2="200.10" y2="222.80" stroke="#222" stroke-width="0.7" />
<line x1="207.54" y1="220.60" x2="207.54" y2="221.80" stroke="#222" stroke-width="0.5" />
<line x1="211.88" y1="220.60" x2="211.88" y2="221.80" stroke="#222" stroke-width="0.5" />
<line x1="214.97" y1="220.60" x2="214.97" y2="221.80" stroke="#222" stroke-width="0.5" />
<line x1="217.36" y1="220.60" x2="217.36" y2="221.80" stroke="#222" stroke-width="0.5" />
<line x1="219.32" y1="220.60" x2="219.32" y2="221.80" stroke="#222" stroke-width="0.5" />
<line x1="220.97" y1="220.60" x2="220.97" y2="221.80" stroke="#222" stroke-width="0.5" />
<line x1="222.41" y1="220.60" x2="222.41" y2="221.80" stroke="#222" stroke-width="0.5" />
<line x1="223.67" y1="220.60" x2="223.67" y2="221.80" stroke="#222" stroke-width="0.5" />
<line x1="224.80" y1="220.60" x2="224.80" y2="222.80" stroke="#222" stroke-width="0.7" />
<text x="150.70" y="232.40" font-size="6" text-anchor="middle" font-weight="normal" font-style="normal" fill="#222" >0.01</text>
<text x="175.40" y="232.40" font-size="6" text-anchor="middle" font-weight="normal" font-style="normal" fill="#222" >0.1</text>
<text x="200.10" y="232.40" font-size="6" text-anchor="middle" font-weight="normal" font-style="normal" fill="#222" >1</text>
<text x="224.80" y="232.40" font-size="6" text-anchor="middle" font-weight="normal" font-style="normal" fill="#222" >10</text>
<text x="189.75" y="243.40" font-size="9" text-anchor="middle" font-weight="normal" font-style="normal" fill="#111" class="at" textLength="51" lengthAdjust="spacingAndGlyphs">Concentration (μM)</text>
<text transform="translate(128.70,193.68) rotate(-90)" x="0" y="0" font-size="7.4" text-anchor="middle" fill="#111" class="at" textLength="41" lengthAdjust="spacingAndGlyphs">Cell viability (%)</text>
<line x1="144.50" y1="253.20" x2="151.50" y2="253.20" stroke="#b9173f" stroke-width="1.0" />
<rect x="147.10" y="252.20" width="2.00" height="2.00" fill="#b9173f" />
<text x="154.00" y="255.40" font-size="6.2" text-anchor="start" font-weight="normal" font-style="normal" fill="#222" >AZA</text>
<line x1="172.00" y1="253.20" x2="179.00" y2="253.20" stroke="#3cb4dc" stroke-width="1.0" />
<rect x="174.60" y="252.20" width="2.00" height="2.00" fill="#3cb4dc" />
<text x="181.50" y="255.40" font-size="6.2" text-anchor="start" font-weight="normal" font-style="normal" fill="#222" >DAC</text>
<line x1="200.00" y1="253.20" x2="207.00" y2="253.20" stroke="#3b2c7a" stroke-width="1.0" />
<rect x="202.60" y="252.20" width="2.00" height="2.00" fill="#3b2c7a" />
<text x="209.50" y="255.40" font-size="6.2" text-anchor="start" font-weight="normal" font-style="normal" fill="#222" >OR-2100</text>
<text x="305.05" y="159.90" font-size="8.7" text-anchor="middle" fill="#222" class="ti" textLength="36.89" lengthAdjust="spacingAndGlyphs">SU-DHL-6</text>
<line x1="268.10" y1="198.50" x2="346.00" y2="198.50" stroke="#3a4a70" stroke-width="0.9" stroke-dasharray="1.1,1.1"/>
<polyline points="278.43,171.62 279.49,171.63 280.55,171.64 281.61,171.66 282.67,171.67 283.73,171.69 284.80,171.72 285.86,171.74 286.92,171.77 287.98,171.81 289.04,171.85 290.10,171.89 291.16,171.95 292.22,172.00 293.28,172.07 294.34,172.15 295.40,172.24 296.46,172.34 297.52,172.46 298.58,172.59 299.64,172.74 300.70,172.90 301.76,173.10 302.82,173.31 303.88,173.56 304.94,173.84 306.00,174.15 307.07,174.50 308.13,174.89 309.19,175.33 310.25,175.82 311.31,176.36 312.37,176.95 313.43,177.60 314.49,178.31 315.55,179.07 316.61,179.90 317.67,180.78 318.73,181.72 319.79,182.70 320.85,183.73 321.91,184.79 322.97,185.88 324.03,186.98 325.09,188.09 326.15,189.20 327.21,190.29 328.27,191.36 329.33,192.40 330.40,193.39 331.46,194.34 332.52,195.23 333.58,196.07 334.64,196.85 335.70,197.58 336.76,198.24 337.82,198.85 338.88,199.40 339.94,199.90 341.00,200.35" fill="none" stroke="#4a3a80" stroke-width="1.25"/>
<polyline points="278.43,171.62 279.49,171.63 280.55,171.64 281.61,171.66 282.67,171.67 283.73,171.69 284.80,171.71 285.86,171.74 286.92,171.76 287.98,171.79 289.04,171.83 290.10,171.87 291.16,171.91 292.22,171.96 293.28,172.02 294.34,172.08 295.40,172.15 296.46,172.24 297.52,172.33 298.58,172.43 299.64,172.55 300.70,172.69 301.76,172.84 302.82,173.01 303.88,173.20 304.94,173.41 306.00,173.65 307.07,173.92 308.13,174.21 309.19,174.55 310.25,174.91 311.31,175.32 312.37,175.77 313.43,176.26 314.49,176.80 315.55,177.39 316.61,178.03 317.67,178.72 318.73,179.46 319.79,180.25 320.85,181.09 321.91,181.97 322.97,182.89 324.03,183.85 325.09,184.84 326.15,185.85 327.21,186.87 328.27,187.91 329.33,188.94 330.40,189.96 331.46,190.96 332.52,191.93 333.58,192.88 334.64,193.78 335.70,194.64 336.76,195.46 337.82,196.23 338.88,196.94 339.94,197.61 341.00,198.22" fill="none" stroke="#48b8de" stroke-width="1.25"/>
<polyline points="278.43,171.98 279.49,171.98 280.55,171.98 281.61,171.98 282.67,171.98 283.73,171.98 284.80,171.98 285.86,171.98 286.92,171.98 287.98,171.98 289.04,171.98 290.10,171.98 291.16,171.98 292.22,171.98 293.28,171.98 294.34,171.98 295.40,171.98 296.46,171.98 297.52,171.98 298.58,171.98 299.64,171.98 300.70,171.98 301.76,171.98 302.82,171.98 303.88,171.98 304.94,171.98 306.00,171.98 307.07,171.98 308.13,171.98 309.19,171.98 310.25,171.98 311.31,171.98 312.37,171.98 313.43,171.98 314.49,171.98 315.55,171.98 316.61,171.98 317.67,171.98 318.73,171.98 319.79,171.98 320.85,171.98 321.91,171.98 322.97,171.98 324.03,171.98 325.09,171.98 326.15,171.98 327.21,171.98 328.27,171.98 329.33,171.98 330.40,171.98 331.46,171.98 332.52,171.98 333.58,171.98 334.64,171.98 335.70,171.98 336.76,171.98 337.82,171.98 338.88,171.98 339.94,171.98 341.00,171.98" fill="none" stroke="#cf2356" stroke-width="1.25"/>
<line x1="278.43" y1="171.54" x2="278.43" y2="174.19" stroke="#352a6e" stroke-width="0.6" />
<line x1="277.43" y1="171.54" x2="279.43" y2="171.54" stroke="#352a6e" stroke-width="0.5" />
<line x1="277.43" y1="174.19" x2="279.43" y2="174.19" stroke="#352a6e" stroke-width="0.5" />
<rect x="277.43" y="171.86" width="2.00" height="2.00" fill="#352a6e" />
<line x1="291.40" y1="172.42" x2="291.40" y2="174.19" stroke="#352a6e" stroke-width="0.6" />
<line x1="290.40" y1="172.42" x2="292.40" y2="172.42" stroke="#352a6e" stroke-width="0.5" />
<line x1="290.40" y1="174.19" x2="292.40" y2="174.19" stroke="#352a6e" stroke-width="0.5" />
<rect x="290.40" y="172.31" width="2.00" height="2.00" fill="#352a6e" />
<line x1="303.23" y1="172.42" x2="303.23" y2="174.19" stroke="#352a6e" stroke-width="0.6" />
<line x1="302.23" y1="172.42" x2="304.23" y2="172.42" stroke="#352a6e" stroke-width="0.5" />
<line x1="302.23" y1="174.19" x2="304.23" y2="174.19" stroke="#352a6e" stroke-width="0.5" />
<rect x="302.23" y="172.31" width="2.00" height="2.00" fill="#352a6e" />
<line x1="316.20" y1="179.94" x2="316.20" y2="183.47" stroke="#352a6e" stroke-width="0.6" />
<line x1="315.20" y1="179.94" x2="317.20" y2="179.94" stroke="#352a6e" stroke-width="0.5" />
<line x1="315.20" y1="183.47" x2="317.20" y2="183.47" stroke="#352a6e" stroke-width="0.5" />
<rect x="315.20" y="180.70" width="2.00" height="2.00" fill="#352a6e" />
<line x1="328.03" y1="190.54" x2="328.03" y2="193.20" stroke="#352a6e" stroke-width="0.6" />
<line x1="327.03" y1="190.54" x2="329.03" y2="190.54" stroke="#352a6e" stroke-width="0.5" />
<line x1="327.03" y1="193.20" x2="329.03" y2="193.20" stroke="#352a6e" stroke-width="0.5" />
<rect x="327.03" y="190.87" width="2.00" height="2.00" fill="#352a6e" />
<line x1="341.00" y1="199.38" x2="341.00" y2="202.04" stroke="#352a6e" stroke-width="0.6" />
<line x1="340.00" y1="199.38" x2="342.00" y2="199.38" stroke="#352a6e" stroke-width="0.5" />
<line x1="340.00" y1="202.04" x2="342.00" y2="202.04" stroke="#352a6e" stroke-width="0.5" />
<rect x="340.00" y="199.71" width="2.00" height="2.00" fill="#352a6e" />
<line x1="278.43" y1="170.65" x2="278.43" y2="173.31" stroke="#2f9fc8" stroke-width="0.6" />
<line x1="277.43" y1="170.65" x2="279.43" y2="170.65" stroke="#2f9fc8" stroke-width="0.5" />
<line x1="277.43" y1="173.31" x2="279.43" y2="173.31" stroke="#2f9fc8" stroke-width="0.5" />
<rect x="277.43" y="170.98" width="2.00" height="2.00" fill="#2f9fc8" />
<line x1="291.40" y1="171.98" x2="291.40" y2="173.75" stroke="#2f9fc8" stroke-width="0.6" />
<line x1="290.40" y1="171.98" x2="292.40" y2="171.98" stroke="#2f9fc8" stroke-width="0.5" />
<line x1="290.40" y1="173.75" x2="292.40" y2="173.75" stroke="#2f9fc8" stroke-width="0.5" />
<rect x="290.40" y="171.86" width="2.00" height="2.00" fill="#2f9fc8" />
<line x1="303.23" y1="171.98" x2="303.23" y2="173.75" stroke="#2f9fc8" stroke-width="0.6" />
<line x1="302.23" y1="171.98" x2="304.23" y2="171.98" stroke="#2f9fc8" stroke-width="0.5" />
<line x1="302.23" y1="173.75" x2="304.23" y2="173.75" stroke="#2f9fc8" stroke-width="0.5" />
<rect x="302.23" y="171.86" width="2.00" height="2.00" fill="#2f9fc8" />
<line x1="316.20" y1="176.84" x2="316.20" y2="180.38" stroke="#2f9fc8" stroke-width="0.6" />
<line x1="315.20" y1="176.84" x2="317.20" y2="176.84" stroke="#2f9fc8" stroke-width="0.5" />
<line x1="315.20" y1="180.38" x2="317.20" y2="180.38" stroke="#2f9fc8" stroke-width="0.5" />
<rect x="315.20" y="177.61" width="2.00" height="2.00" fill="#2f9fc8" />
<line x1="328.03" y1="185.24" x2="328.03" y2="188.78" stroke="#2f9fc8" stroke-width="0.6" />
<line x1="327.03" y1="185.24" x2="329.03" y2="185.24" stroke="#2f9fc8" stroke-width="0.5" />
<line x1="327.03" y1="188.78" x2="329.03" y2="188.78" stroke="#2f9fc8" stroke-width="0.5" />
<rect x="327.03" y="186.01" width="2.00" height="2.00" fill="#2f9fc8" />
<line x1="341.00" y1="195.85" x2="341.00" y2="199.38" stroke="#2f9fc8" stroke-width="0.6" />
<line x1="340.00" y1="195.85" x2="342.00" y2="195.85" stroke="#2f9fc8" stroke-width="0.5" />
<line x1="340.00" y1="199.38" x2="342.00" y2="199.38" stroke="#2f9fc8" stroke-width="0.5" />
<rect x="340.00" y="196.62" width="2.00" height="2.00" fill="#2f9fc8" />
<line x1="278.43" y1="171.54" x2="278.43" y2="175.07" stroke="#a8173f" stroke-width="0.6" />
<line x1="277.43" y1="171.54" x2="279.43" y2="171.54" stroke="#a8173f" stroke-width="0.5" />
<line x1="277.43" y1="175.07" x2="279.43" y2="175.07" stroke="#a8173f" stroke-width="0.5" />
<rect x="277.43" y="172.31" width="2.00" height="2.00" fill="#a8173f" />
<line x1="291.40" y1="173.31" x2="291.40" y2="175.07" stroke="#a8173f" stroke-width="0.6" />
<line x1="290.40" y1="173.31" x2="292.40" y2="173.31" stroke="#a8173f" stroke-width="0.5" />
<line x1="290.40" y1="175.07" x2="292.40" y2="175.07" stroke="#a8173f" stroke-width="0.5" />
<rect x="290.40" y="173.19" width="2.00" height="2.00" fill="#a8173f" />
<line x1="303.23" y1="169.77" x2="303.23" y2="172.42" stroke="#a8173f" stroke-width="0.6" />
<line x1="302.23" y1="169.77" x2="304.23" y2="169.77" stroke="#a8173f" stroke-width="0.5" />
<line x1="302.23" y1="172.42" x2="304.23" y2="172.42" stroke="#a8173f" stroke-width="0.5" />
<rect x="302.23" y="170.10" width="2.00" height="2.00" fill="#a8173f" />
<line x1="316.20" y1="170.65" x2="316.20" y2="173.31" stroke="#a8173f" stroke-width="0.6" />
<line x1="315.20" y1="170.65" x2="317.20" y2="170.65" stroke="#a8173f" stroke-width="0.5" />
<line x1="315.20" y1="173.31" x2="317.20" y2="173.31" stroke="#a8173f" stroke-width="0.5" />
<rect x="315.20" y="170.98" width="2.00" height="2.00" fill="#a8173f" />
<line x1="328.03" y1="167.56" x2="328.03" y2="170.21" stroke="#a8173f" stroke-width="0.6" />
<line x1="327.03" y1="167.56" x2="329.03" y2="167.56" stroke="#a8173f" stroke-width="0.5" />
<line x1="327.03" y1="170.21" x2="329.03" y2="170.21" stroke="#a8173f" stroke-width="0.5" />
<rect x="327.03" y="167.89" width="2.00" height="2.00" fill="#a8173f" />
<line x1="341.00" y1="176.40" x2="341.00" y2="179.05" stroke="#a8173f" stroke-width="0.6" />
<line x1="340.00" y1="176.40" x2="342.00" y2="176.40" stroke="#a8173f" stroke-width="0.5" />
<line x1="340.00" y1="179.05" x2="342.00" y2="179.05" stroke="#a8173f" stroke-width="0.5" />
<rect x="340.00" y="176.73" width="2.00" height="2.00" fill="#a8173f" />
<line x1="266.60" y1="165.35" x2="266.60" y2="221.10" stroke="#222" stroke-width="1.4" />
<line x1="265.90" y1="220.60" x2="342.50" y2="220.60" stroke="#222" stroke-width="1.4" />
<line x1="264.00" y1="220.60" x2="266.60" y2="220.60" stroke="#222" stroke-width="0.6" />
<line x1="264.80" y1="218.39" x2="266.60" y2="218.39" stroke="#222" stroke-width="0.6" />
<line x1="264.80" y1="216.18" x2="266.60" y2="216.18" stroke="#222" stroke-width="0.6" />
<line x1="264.80" y1="213.97" x2="266.60" y2="213.97" stroke="#222" stroke-width="0.6" />
<line x1="264.80" y1="211.76" x2="266.60" y2="211.76" stroke="#222" stroke-width="0.6" />
<line x1="264.80" y1="209.55" x2="266.60" y2="209.55" stroke="#222" stroke-width="0.6" />
<line x1="264.80" y1="207.34" x2="266.60" y2="207.34" stroke="#222" stroke-width="0.6" />
<line x1="264.80" y1="205.13" x2="266.60" y2="205.13" stroke="#222" stroke-width="0.6" />
<line x1="264.80" y1="202.92" x2="266.60" y2="202.92" stroke="#222" stroke-width="0.6" />
<line x1="264.80" y1="200.71" x2="266.60" y2="200.71" stroke="#222" stroke-width="0.6" />
<line x1="264.00" y1="198.50" x2="266.60" y2="198.50" stroke="#222" stroke-width="0.6" />
<line x1="264.80" y1="196.29" x2="266.60" y2="196.29" stroke="#222" stroke-width="0.6" />
<line x1="264.80" y1="194.08" x2="266.60" y2="194.08" stroke="#222" stroke-width="0.6" />
<line x1="264.80" y1="191.87" x2="266.60" y2="191.87" stroke="#222" stroke-width="0.6" />
<line x1="264.80" y1="189.66" x2="266.60" y2="189.66" stroke="#222" stroke-width="0.6" />
<line x1="264.80" y1="187.45" x2="266.60" y2="187.45" stroke="#222" stroke-width="0.6" />
<line x1="264.80" y1="185.24" x2="266.60" y2="185.24" stroke="#222" stroke-width="0.6" />
<line x1="264.80" y1="183.03" x2="266.60" y2="183.03" stroke="#222" stroke-width="0.6" />
<line x1="264.80" y1="180.82" x2="266.60" y2="180.82" stroke="#222" stroke-width="0.6" />
<line x1="264.80" y1="178.61" x2="266.60" y2="178.61" stroke="#222" stroke-width="0.6" />
<line x1="264.00" y1="176.40" x2="266.60" y2="176.40" stroke="#222" stroke-width="0.6" />
<line x1="264.80" y1="174.19" x2="266.60" y2="174.19" stroke="#222" stroke-width="0.6" />
<line x1="264.80" y1="171.98" x2="266.60" y2="171.98" stroke="#222" stroke-width="0.6" />
<line x1="264.80" y1="169.77" x2="266.60" y2="169.77" stroke="#222" stroke-width="0.6" />
<line x1="264.80" y1="167.56" x2="266.60" y2="167.56" stroke="#222" stroke-width="0.6" />
<line x1="264.80" y1="165.35" x2="266.60" y2="165.35" stroke="#222" stroke-width="0.6" />
<text x="261.10" y="222.70" font-size="6" text-anchor="end" font-weight="normal" font-style="normal" fill="#222" >0</text>
<text x="261.10" y="200.60" font-size="6" text-anchor="end" font-weight="normal" font-style="normal" fill="#222" >50</text>
<text x="261.10" y="178.50" font-size="6" text-anchor="end" font-weight="normal" font-style="normal" fill="#222" >100</text>
<line x1="266.60" y1="220.60" x2="266.60" y2="222.80" stroke="#222" stroke-width="0.7" />
<line x1="274.07" y1="220.60" x2="274.07" y2="221.80" stroke="#222" stroke-width="0.5" />
<line x1="278.43" y1="220.60" x2="278.43" y2="221.80" stroke="#222" stroke-width="0.5" />
<line x1="281.53" y1="220.60" x2="281.53" y2="221.80" stroke="#222" stroke-width="0.5" />
<line x1="283.93" y1="220.60" x2="283.93" y2="221.80" stroke="#222" stroke-width="0.5" />
<line x1="285.90" y1="220.60" x2="285.90" y2="221.80" stroke="#222" stroke-width="0.5" />
<line x1="287.56" y1="220.60" x2="287.56" y2="221.80" stroke="#222" stroke-width="0.5" />
<line x1="289.00" y1="220.60" x2="289.00" y2="221.80" stroke="#222" stroke-width="0.5" />
<line x1="290.27" y1="220.60" x2="290.27" y2="221.80" stroke="#222" stroke-width="0.5" />
<line x1="291.40" y1="220.60" x2="291.40" y2="222.80" stroke="#222" stroke-width="0.7" />
<line x1="298.87" y1="220.60" x2="298.87" y2="221.80" stroke="#222" stroke-width="0.5" />
<line x1="303.23" y1="220.60" x2="303.23" y2="221.80" stroke="#222" stroke-width="0.5" />
<line x1="306.33" y1="220.60" x2="306.33" y2="221.80" stroke="#222" stroke-width="0.5" />
<line x1="308.73" y1="220.60" x2="308.73" y2="221.80" stroke="#222" stroke-width="0.5" />
<line x1="310.70" y1="220.60" x2="310.70" y2="221.80" stroke="#222" stroke-width="0.5" />
<line x1="312.36" y1="220.60" x2="312.36" y2="221.80" stroke="#222" stroke-width="0.5" />
<line x1="313.80" y1="220.60" x2="313.80" y2="221.80" stroke="#222" stroke-width="0.5" />
<line x1="315.07" y1="220.60" x2="315.07" y2="221.80" stroke="#222" stroke-width="0.5" />
<line x1="316.20" y1="220.60" x2="316.20" y2="222.80" stroke="#222" stroke-width="0.7" />
<line x1="323.67" y1="220.60" x2="323.67" y2="221.80" stroke="#222" stroke-width="0.5" />
<line x1="328.03" y1="220.60" x2="328.03" y2="221.80" stroke="#222" stroke-width="0.5" />
<line x1="331.13" y1="220.60" x2="331.13" y2="221.80" stroke="#222" stroke-width="0.5" />
<line x1="333.53" y1="220.60" x2="333.53" y2="221.80" stroke="#222" stroke-width="0.5" />
<line x1="335.50" y1="220.60" x2="335.50" y2="221.80" stroke="#222" stroke-width="0.5" />
<line x1="337.16" y1="220.60" x2="337.16" y2="221.80" stroke="#222" stroke-width="0.5" />
<line x1="338.60" y1="220.60" x2="338.60" y2="221.80" stroke="#222" stroke-width="0.5" />
<line x1="339.87" y1="220.60" x2="339.87" y2="221.80" stroke="#222" stroke-width="0.5" />
<line x1="341.00" y1="220.60" x2="341.00" y2="222.80" stroke="#222" stroke-width="0.7" />
<text x="266.60" y="232.40" font-size="6" text-anchor="middle" font-weight="normal" font-style="normal" fill="#222" >0.01</text>
<text x="291.40" y="232.40" font-size="6" text-anchor="middle" font-weight="normal" font-style="normal" fill="#222" >0.1</text>
<text x="316.20" y="232.40" font-size="6" text-anchor="middle" font-weight="normal" font-style="normal" fill="#222" >1</text>
<text x="341.00" y="232.40" font-size="6" text-anchor="middle" font-weight="normal" font-style="normal" fill="#222" >10</text>
<text x="305.80" y="243.40" font-size="9" text-anchor="middle" font-weight="normal" font-style="normal" fill="#111" class="at" textLength="51" lengthAdjust="spacingAndGlyphs">Concentration (μM)</text>
<text transform="translate(244.60,193.68) rotate(-90)" x="0" y="0" font-size="7.4" text-anchor="middle" fill="#111" class="at" textLength="41" lengthAdjust="spacingAndGlyphs">Cell viability (%)</text>
<line x1="260.40" y1="253.20" x2="267.40" y2="253.20" stroke="#b9173f" stroke-width="1.0" />
<rect x="263.00" y="252.20" width="2.00" height="2.00" fill="#b9173f" />
<text x="269.90" y="255.40" font-size="6.2" text-anchor="start" font-weight="normal" font-style="normal" fill="#222" >AZA</text>
<line x1="287.90" y1="253.20" x2="294.90" y2="253.20" stroke="#3cb4dc" stroke-width="1.0" />
<rect x="290.50" y="252.20" width="2.00" height="2.00" fill="#3cb4dc" />
<text x="297.40" y="255.40" font-size="6.2" text-anchor="start" font-weight="normal" font-style="normal" fill="#222" >DAC</text>
<line x1="315.90" y1="253.20" x2="322.90" y2="253.20" stroke="#3b2c7a" stroke-width="1.0" />
<rect x="318.50" y="252.20" width="2.00" height="2.00" fill="#3b2c7a" />
<text x="325.40" y="255.40" font-size="6.2" text-anchor="start" font-weight="normal" font-style="normal" fill="#222" >OR-2100</text>
<text x="453.8" y="13.5" font-size="8.7" text-anchor="middle" fill="#222" class="ti" textLength="29.64" lengthAdjust="spacingAndGlyphs"><tspan font-style="italic">TP53</tspan> wt</text>
<line x1="397.50" y1="18.40" x2="509.50" y2="18.40" stroke="#555" stroke-width="1.1" />
<text x="454.4" y="157.7" font-size="8.7" text-anchor="middle" fill="#222" class="ti" textLength="34.98" lengthAdjust="spacingAndGlyphs"><tspan font-style="italic">TP53</tspan> mut</text>
<line x1="397.80" y1="162.80" x2="510.50" y2="162.80" stroke="#555" stroke-width="1.1" />
<text x="415.70" y="28.00" font-size="8.7" text-anchor="middle" fill="#222" class="ti" textLength="11.55" lengthAdjust="spacingAndGlyphs">RC</text>
<rect x="399.00" y="106.58" width="8.30" height="13.42" fill="#c4c4c8" />
<line x1="403.15" y1="106.58" x2="403.15" y2="103.39" stroke="#c4c4c8" stroke-width="0.7" />
<line x1="401.15" y1="103.39" x2="405.15" y2="103.39" stroke="#c4c4c8" stroke-width="0.7" />
<rect x="411.50" y="79.74" width="8.30" height="40.26" fill="#c8102e" />
<line x1="415.65" y1="79.74" x2="415.65" y2="75.27" stroke="#c8102e" stroke-width="0.7" />
<line x1="413.65" y1="75.27" x2="417.65" y2="75.27" stroke="#c8102e" stroke-width="0.7" />
<rect x="424.40" y="70.16" width="7.60" height="49.84" fill="#5b2371" />
<line x1="428.20" y1="70.16" x2="428.20" y2="65.69" stroke="#5b2371" stroke-width="0.7" />
<line x1="426.20" y1="65.69" x2="430.20" y2="65.69" stroke="#5b2371" stroke-width="0.7" />
<line x1="394.00" y1="54.90" x2="394.00" y2="120.50" stroke="#222" stroke-width="1.1" />
<line x1="393.50" y1="120.00" x2="435.80" y2="120.00" stroke="#222" stroke-width="1.1" />
<line x1="391.80" y1="120.00" x2="394.00" y2="120.00" stroke="#222" stroke-width="0.7" />
<text x="389.00" y="122.10" font-size="6" text-anchor="end" font-weight="normal" font-style="normal" fill="#222" >0</text>
<line x1="391.80" y1="107.22" x2="394.00" y2="107.22" stroke="#222" stroke-width="0.7" />
<text x="389.00" y="109.32" font-size="6" text-anchor="end" font-weight="normal" font-style="normal" fill="#222" >20</text>
<line x1="391.80" y1="94.44" x2="394.00" y2="94.44" stroke="#222" stroke-width="0.7" />
<text x="389.00" y="96.54" font-size="6" text-anchor="end" font-weight="normal" font-style="normal" fill="#222" >40</text>
<line x1="391.80" y1="81.66" x2="394.00" y2="81.66" stroke="#222" stroke-width="0.7" />
<text x="389.00" y="83.76" font-size="6" text-anchor="end" font-weight="normal" font-style="normal" fill="#222" >60</text>
<line x1="391.80" y1="68.88" x2="394.00" y2="68.88" stroke="#222" stroke-width="0.7" />
<text x="389.00" y="70.98" font-size="6" text-anchor="end" font-weight="normal" font-style="normal" fill="#222" >80</text>
<line x1="391.80" y1="56.10" x2="394.00" y2="56.10" stroke="#222" stroke-width="0.7" />
<text x="389.00" y="58.20" font-size="6" text-anchor="end" font-weight="normal" font-style="normal" fill="#222" >100</text>
<line x1="403.15" y1="120.00" x2="403.15" y2="122.00" stroke="#222" stroke-width="0.7" />
<line x1="415.65" y1="120.00" x2="415.65" y2="122.00" stroke="#222" stroke-width="0.7" />
<line x1="428.20" y1="120.00" x2="428.20" y2="122.00" stroke="#222" stroke-width="0.7" />
<text transform="translate(372.10,86.75) rotate(-90)" font-size="7.4" text-anchor="middle" fill="#111" class="at" textLength="36" lengthAdjust="spacingAndGlyphs">Apoptosis (%)</text>
<text transform="translate(405.85,128.50) rotate(-45)" font-size="6.4" text-anchor="end" fill="#111">Control</text>
<text transform="translate(418.35,128.50) rotate(-45)" font-size="6.4" text-anchor="end" fill="#111">AZA</text>
<text transform="translate(430.90,128.50) rotate(-45)" font-size="6.4" text-anchor="end" fill="#111">OR-2100</text>
<polyline points="402.80,103.00 402.80,58.40 415.70,58.40 415.70,74.50" fill="none" stroke="#444" stroke-width="0.6"/>
<polyline points="402.10,51.00 402.10,45.90 428.40,45.90 428.40,62.30" fill="none" stroke="#444" stroke-width="0.6"/>
<text x="415.00" y="37.80" font-size="4.6" text-anchor="middle" fill="#333" class="sm"><tspan font-style="italic">P</tspan> &lt; .0001</text>
<text x="415.50" y="45.60" font-size="6" text-anchor="middle" font-weight="normal" font-style="normal" fill="#333" class="sm">****</text>
<text x="415.50" y="51.20" font-size="4.6" text-anchor="middle" fill="#333" class="sm"><tspan font-style="italic">P</tspan> = .0000</text>
<text x="409.00" y="57.50" font-size="5.8" text-anchor="middle" font-weight="normal" font-style="normal" fill="#333" class="sm">***</text>
<text x="491.30" y="28.60" font-size="8.7" text-anchor="middle" fill="#222" class="ti" textLength="33.94" lengthAdjust="spacingAndGlyphs">OCI-Ly18</text>
<rect x="475.70" y="112.30" width="7.50" height="7.50" fill="#c4c4c8" />
<line x1="479.45" y1="112.30" x2="479.45" y2="111.05" stroke="#c4c4c8" stroke-width="0.7" />
<line x1="477.45" y1="111.05" x2="481.45" y2="111.05" stroke="#c4c4c8" stroke-width="0.7" />
<rect x="488.10" y="109.80" width="7.90" height="10.00" fill="#c8102e" />
<line x1="492.05" y1="109.80" x2="492.05" y2="107.92" stroke="#c8102e" stroke-width="0.7" />
<line x1="490.05" y1="107.92" x2="494.05" y2="107.92" stroke="#c8102e" stroke-width="0.7" />
<rect x="501.20" y="95.42" width="7.30" height="24.38" fill="#5b2371" />
<line x1="504.85" y1="95.42" x2="504.85" y2="85.42" stroke="#5b2371" stroke-width="0.7" />
<line x1="502.85" y1="85.42" x2="506.85" y2="85.42" stroke="#5b2371" stroke-width="0.7" />
<line x1="470.70" y1="56.10" x2="470.70" y2="120.30" stroke="#222" stroke-width="1.1" />
<line x1="470.20" y1="119.80" x2="512.30" y2="119.80" stroke="#222" stroke-width="1.1" />
<line x1="468.50" y1="119.80" x2="470.70" y2="119.80" stroke="#222" stroke-width="0.7" />
<text x="465.70" y="121.90" font-size="6" text-anchor="end" font-weight="normal" font-style="normal" fill="#222" >0</text>
<line x1="468.50" y1="107.30" x2="470.70" y2="107.30" stroke="#222" stroke-width="0.7" />
<text x="465.70" y="109.40" font-size="6" text-anchor="end" font-weight="normal" font-style="normal" fill="#222" >20</text>
<line x1="468.50" y1="94.80" x2="470.70" y2="94.80" stroke="#222" stroke-width="0.7" />
<text x="465.70" y="96.90" font-size="6" text-anchor="end" font-weight="normal" font-style="normal" fill="#222" >40</text>
<line x1="468.50" y1="82.30" x2="470.70" y2="82.30" stroke="#222" stroke-width="0.7" />
<text x="465.70" y="84.40" font-size="6" text-anchor="end" font-weight="normal" font-style="normal" fill="#222" >60</text>
<line x1="468.50" y1="69.80" x2="470.70" y2="69.80" stroke="#222" stroke-width="0.7" />
<text x="465.70" y="71.90" font-size="6" text-anchor="end" font-weight="normal" font-style="normal" fill="#222" >80</text>
<line x1="468.50" y1="57.30" x2="470.70" y2="57.30" stroke="#222" stroke-width="0.7" />
<text x="465.70" y="59.40" font-size="6" text-anchor="end" font-weight="normal" font-style="normal" fill="#222" >100</text>
<line x1="479.45" y1="119.80" x2="479.45" y2="121.80" stroke="#222" stroke-width="0.7" />
<line x1="492.05" y1="119.80" x2="492.05" y2="121.80" stroke="#222" stroke-width="0.7" />
<line x1="504.85" y1="119.80" x2="504.85" y2="121.80" stroke="#222" stroke-width="0.7" />
<text transform="translate(448.80,87.25) rotate(-90)" font-size="7.4" text-anchor="middle" fill="#111" class="at" textLength="36" lengthAdjust="spacingAndGlyphs">Apoptosis (%)</text>
<text transform="translate(482.15,128.30) rotate(-45)" font-size="6.4" text-anchor="end" fill="#111">Control</text>
<text transform="translate(494.75,128.30) rotate(-45)" font-size="6.4" text-anchor="end" fill="#111">AZA</text>
<text transform="translate(507.55,128.30) rotate(-45)" font-size="6.4" text-anchor="end" fill="#111">OR-2100</text>
<polyline points="479.40,109.80 479.40,78.00 491.90,78.00 491.90,106.50" fill="none" stroke="#444" stroke-width="0.6"/>
<polyline points="479.40,69.50 479.40,65.60 504.70,65.60 504.70,81.80" fill="none" stroke="#444" stroke-width="0.6"/>
<text x="489.00" y="49.60" font-size="5.0" text-anchor="middle" fill="#333" class="sm"><tspan font-style="italic">P</tspan> = .0194</text>
<text x="491.90" y="65.00" font-size="6" text-anchor="middle" font-weight="normal" font-style="normal" fill="#333" class="sm">*</text>
<text x="485.20" y="73.50" font-size="4.6" text-anchor="middle" font-weight="normal" font-style="normal" fill="#333" class="sm">ns</text>
<text x="415.70" y="173.00" font-size="8.7" text-anchor="middle" fill="#222" class="ti" textLength="41.34" lengthAdjust="spacingAndGlyphs">SU-DHL-10</text>
<rect x="399.40" y="225.01" width="7.30" height="18.99" fill="#c4c4c8" />
<line x1="403.05" y1="225.01" x2="403.05" y2="223.11" stroke="#c4c4c8" stroke-width="0.7" />
<line x1="401.05" y1="223.11" x2="405.05" y2="223.11" stroke="#c4c4c8" stroke-width="0.7" />
<rect x="411.90" y="221.84" width="7.90" height="22.16" fill="#c8102e" />
<line x1="415.85" y1="221.84" x2="415.85" y2="218.68" stroke="#c8102e" stroke-width="0.7" />
<line x1="413.85" y1="218.68" x2="417.85" y2="218.68" stroke="#c8102e" stroke-width="0.7" />
<rect x="424.70" y="223.11" width="7.30" height="20.89" fill="#5b2371" />
<line x1="428.35" y1="223.11" x2="428.35" y2="221.21" stroke="#5b2371" stroke-width="0.7" />
<line x1="426.35" y1="221.21" x2="430.35" y2="221.21" stroke="#5b2371" stroke-width="0.7" />
<line x1="393.80" y1="179.50" x2="393.80" y2="244.50" stroke="#222" stroke-width="1.1" />
<line x1="393.30" y1="244.00" x2="435.80" y2="244.00" stroke="#222" stroke-width="1.1" />
<line x1="391.60" y1="244.00" x2="393.80" y2="244.00" stroke="#222" stroke-width="0.7" />
<text x="388.80" y="246.10" font-size="6" text-anchor="end" font-weight="normal" font-style="normal" fill="#222" >0</text>
<line x1="391.60" y1="231.34" x2="393.80" y2="231.34" stroke="#222" stroke-width="0.7" />
<text x="388.80" y="233.44" font-size="6" text-anchor="end" font-weight="normal" font-style="normal" fill="#222" >20</text>
<line x1="391.60" y1="218.68" x2="393.80" y2="218.68" stroke="#222" stroke-width="0.7" />
<text x="388.80" y="220.78" font-size="6" text-anchor="end" font-weight="normal" font-style="normal" fill="#222" >40</text>
<line x1="391.60" y1="206.02" x2="393.80" y2="206.02" stroke="#222" stroke-width="0.7" />
<text x="388.80" y="208.12" font-size="6" text-anchor="end" font-weight="normal" font-style="normal" fill="#222" >60</text>
<line x1="391.60" y1="193.36" x2="393.80" y2="193.36" stroke="#222" stroke-width="0.7" />
<text x="388.80" y="195.46" font-size="6" text-anchor="end" font-weight="normal" font-style="normal" fill="#222" >80</text>
<line x1="391.60" y1="180.70" x2="393.80" y2="180.70" stroke="#222" stroke-width="0.7" />
<text x="388.80" y="182.80" font-size="6" text-anchor="end" font-weight="normal" font-style="normal" fill="#222" >100</text>
<line x1="403.05" y1="244.00" x2="403.05" y2="246.00" stroke="#222" stroke-width="0.7" />
<line x1="415.85" y1="244.00" x2="415.85" y2="246.00" stroke="#222" stroke-width="0.7" />
<line x1="428.35" y1="244.00" x2="428.35" y2="246.00" stroke="#222" stroke-width="0.7" />
<text transform="translate(371.90,211.05) rotate(-90)" font-size="7.4" text-anchor="middle" fill="#111" class="at" textLength="36" lengthAdjust="spacingAndGlyphs">Apoptosis (%)</text>
<text transform="translate(405.75,252.50) rotate(-45)" font-size="6.4" text-anchor="end" fill="#111">Control</text>
<text transform="translate(418.55,252.50) rotate(-45)" font-size="6.4" text-anchor="end" fill="#111">AZA</text>
<text transform="translate(431.05,252.50) rotate(-45)" font-size="6.4" text-anchor="end" fill="#111">OR-2100</text>
<polyline points="402.50,218.30 402.50,211.30 415.60,211.30 415.60,214.00" fill="none" stroke="#444" stroke-width="0.6"/>
<polyline points="402.50,201.00 402.50,197.50 428.50,197.50 428.50,216.50" fill="none" stroke="#444" stroke-width="0.6"/>
<text x="415.60" y="193.80" font-size="4.6" text-anchor="middle" font-weight="normal" font-style="normal" fill="#333" class="sm">ns</text>
<text x="409.40" y="207.20" font-size="4.6" text-anchor="middle" font-weight="normal" font-style="normal" fill="#333" class="sm">ns</text>
<text x="492.60" y="173.00" font-size="8.7" text-anchor="middle" fill="#222" class="ti" textLength="36.89" lengthAdjust="spacingAndGlyphs">SU-DHL-6</text>
<rect x="476.90" y="238.98" width="7.10" height="5.02" fill="#c4c4c8" />
<line x1="480.45" y1="238.98" x2="480.45" y2="237.73" stroke="#c4c4c8" stroke-width="0.7" />
<line x1="478.45" y1="237.73" x2="482.45" y2="237.73" stroke="#c4c4c8" stroke-width="0.7" />
<rect x="489.20" y="239.61" width="7.20" height="4.39" fill="#c8102e" />
<line x1="492.80" y1="239.61" x2="492.80" y2="237.10" stroke="#c8102e" stroke-width="0.7" />
<line x1="490.80" y1="237.10" x2="494.80" y2="237.10" stroke="#c8102e" stroke-width="0.7" />
<rect x="501.80" y="230.21" width="7.30" height="13.79" fill="#5b2371" />
<line x1="505.45" y1="230.21" x2="505.45" y2="227.70" stroke="#5b2371" stroke-width="0.7" />
<line x1="503.45" y1="227.70" x2="507.45" y2="227.70" stroke="#5b2371" stroke-width="0.7" />
<line x1="471.10" y1="180.10" x2="471.10" y2="244.50" stroke="#222" stroke-width="1.1" />
<line x1="470.60" y1="244.00" x2="512.90" y2="244.00" stroke="#222" stroke-width="1.1" />
<line x1="468.90" y1="244.00" x2="471.10" y2="244.00" stroke="#222" stroke-width="0.7" />
<text x="466.10" y="246.10" font-size="6" text-anchor="end" font-weight="normal" font-style="normal" fill="#222" >0</text>
<line x1="468.90" y1="231.46" x2="471.10" y2="231.46" stroke="#222" stroke-width="0.7" />
<text x="466.10" y="233.56" font-size="6" text-anchor="end" font-weight="normal" font-style="normal" fill="#222" >20</text>
<line x1="468.90" y1="218.92" x2="471.10" y2="218.92" stroke="#222" stroke-width="0.7" />
<text x="466.10" y="221.02" font-size="6" text-anchor="end" font-weight="normal" font-style="normal" fill="#222" >40</text>
<line x1="468.90" y1="206.38" x2="471.10" y2="206.38" stroke="#222" stroke-width="0.7" />
<text x="466.10" y="208.48" font-size="6" text-anchor="end" font-weight="normal" font-style="normal" fill="#222" >60</text>
<line x1="468.90" y1="193.84" x2="471.10" y2="193.84" stroke="#222" stroke-width="0.7" />
<text x="466.10" y="195.94" font-size="6" text-anchor="end" font-weight="normal" font-style="normal" fill="#222" >80</text>
<line x1="468.90" y1="181.30" x2="471.10" y2="181.30" stroke="#222" stroke-width="0.7" />
<text x="466.10" y="183.40" font-size="6" text-anchor="end" font-weight="normal" font-style="normal" fill="#222" >100</text>
<line x1="480.45" y1="244.00" x2="480.45" y2="246.00" stroke="#222" stroke-width="0.7" />
<line x1="492.80" y1="244.00" x2="492.80" y2="246.00" stroke="#222" stroke-width="0.7" />
<line x1="505.45" y1="244.00" x2="505.45" y2="246.00" stroke="#222" stroke-width="0.7" />
<text transform="translate(449.20,211.35) rotate(-90)" font-size="7.4" text-anchor="middle" fill="#111" class="at" textLength="36" lengthAdjust="spacingAndGlyphs">Apoptosis (%)</text>
<text transform="translate(483.15,252.50) rotate(-45)" font-size="6.4" text-anchor="end" fill="#111">Control</text>
<text transform="translate(495.50,252.50) rotate(-45)" font-size="6.4" text-anchor="end" fill="#111">AZA</text>
<text transform="translate(508.15,252.50) rotate(-45)" font-size="6.4" text-anchor="end" fill="#111">OR-2100</text>
<polyline points="480.50,234.00 480.50,220.20 492.90,220.20 492.90,235.50" fill="none" stroke="#444" stroke-width="0.6"/>
<polyline points="479.80,211.50 479.80,207.00 506.00,207.00 506.00,225.30" fill="none" stroke="#444" stroke-width="0.6"/>
<text x="494.00" y="192.40" font-size="5.0" text-anchor="middle" fill="#333" class="sm"><tspan font-style="italic">P</tspan> = .0018</text>
<text x="492.90" y="206.30" font-size="6" text-anchor="middle" font-weight="normal" font-style="normal" fill="#333" class="sm">**</text>
<text x="486.70" y="216.80" font-size="4.6" text-anchor="middle" font-weight="normal" font-style="normal" fill="#333" class="sm">ns</text>
<text x="67.45" y="291.20" font-size="8.7" text-anchor="middle" fill="#222" class="ti" textLength="11.55" lengthAdjust="spacingAndGlyphs">RC</text>
<rect x="35.10" y="296.20" width="64.10" height="96.90" fill="#ec1c24" />
<text x="39.68" y="309.81" font-size="4.2" text-anchor="middle" fill="#5a2020" class="cn">93</text>
<text x="48.84" y="309.81" font-size="4.2" text-anchor="middle" fill="#5a2020" class="cn">97</text>
<text x="57.99" y="309.81" font-size="4.2" text-anchor="middle" fill="#5a2020" class="cn">98</text>
<text x="67.15" y="309.81" font-size="4.2" text-anchor="middle" fill="#5a2020" class="cn">99</text>
<text x="76.31" y="309.81" font-size="4.2" text-anchor="middle" fill="#5a2020" class="cn">99</text>
<text x="85.46" y="309.81" font-size="4.2" text-anchor="middle" fill="#5a2020" class="cn">99</text>
<text x="94.62" y="309.81" font-size="4.2" text-anchor="middle" fill="#5a2020" class="cn">97</text>
<rect x="35.10" y="320.43" width="9.76" height="24.83" fill="#ec2224" />
<text x="39.68" y="334.04" font-size="4.2" text-anchor="middle" fill="#5a2020" class="cn">73</text>
<text x="48.84" y="334.04" font-size="4.2" text-anchor="middle" fill="#5a2020" class="cn">91</text>
<text x="57.99" y="334.04" font-size="4.2" text-anchor="middle" fill="#5a2020" class="cn">92</text>
<text x="67.15" y="334.04" font-size="4.2" text-anchor="middle" fill="#5a2020" class="cn">100</text>
<text x="76.31" y="334.04" font-size="4.2" text-anchor="middle" fill="#5a2020" class="cn">98</text>
<text x="85.46" y="334.04" font-size="4.2" text-anchor="middle" fill="#5a2020" class="cn">98</text>
<text x="94.62" y="334.04" font-size="4.2" text-anchor="middle" fill="#5a2020" class="cn">92</text>
<rect x="35.10" y="344.65" width="9.76" height="24.83" fill="#f5d6c8" />
<text x="39.68" y="358.26" font-size="4.2" text-anchor="middle" fill="#5a2020" class="cn">21</text>
<text x="48.84" y="358.26" font-size="4.2" text-anchor="middle" fill="#5a2020" class="cn">91</text>
<text x="57.99" y="358.26" font-size="4.2" text-anchor="middle" fill="#5a2020" class="cn">93</text>
<text x="67.15" y="358.26" font-size="4.2" text-anchor="middle" fill="#5a2020" class="cn">95</text>
<text x="76.31" y="358.26" font-size="4.2" text-anchor="middle" fill="#5a2020" class="cn">95</text>
<text x="85.46" y="358.26" font-size="4.2" text-anchor="middle" fill="#5a2020" class="cn">95</text>
<text x="94.62" y="358.26" font-size="4.2" text-anchor="middle" fill="#5a2020" class="cn">95</text>
<rect x="35.10" y="368.88" width="9.76" height="24.23" fill="#ffffff" />
<text x="39.68" y="382.49" font-size="4.2" text-anchor="middle" fill="#5a2020" class="cn">0</text>
<rect x="44.26" y="368.88" width="9.76" height="24.23" fill="#e6503a" />
<text x="48.84" y="382.49" font-size="4.2" text-anchor="middle" fill="#5a2020" class="cn">40</text>
<rect x="53.41" y="368.88" width="9.76" height="24.23" fill="#ea2a26" />
<text x="57.99" y="382.49" font-size="4.2" text-anchor="middle" fill="#5a2020" class="cn">73</text>
<text x="67.15" y="382.49" font-size="4.2" text-anchor="middle" fill="#5a2020" class="cn">78</text>
<text x="76.31" y="382.49" font-size="4.2" text-anchor="middle" fill="#5a2020" class="cn">78</text>
<text x="85.46" y="382.49" font-size="4.2" text-anchor="middle" fill="#5a2020" class="cn">78</text>
<text x="94.62" y="382.49" font-size="4.2" text-anchor="middle" fill="#5a2020" class="cn">80</text>
<line x1="35.10" y1="296.20" x2="35.10" y2="393.60" stroke="#222" stroke-width="0.8" />
<line x1="34.70" y1="393.10" x2="99.20" y2="393.10" stroke="#222" stroke-width="0.8" />
<line x1="32.60" y1="308.31" x2="35.10" y2="308.31" stroke="#222" stroke-width="0.7" />
<text x="29.10" y="310.51" font-size="6.2" text-anchor="end" font-weight="normal" font-style="normal" fill="#111" >200</text>
<line x1="32.60" y1="332.54" x2="35.10" y2="332.54" stroke="#222" stroke-width="0.7" />
<text x="29.10" y="334.74" font-size="6.2" text-anchor="end" font-weight="normal" font-style="normal" fill="#111" >100</text>
<line x1="32.60" y1="356.76" x2="35.10" y2="356.76" stroke="#222" stroke-width="0.7" />
<text x="29.10" y="358.96" font-size="6.2" text-anchor="end" font-weight="normal" font-style="normal" fill="#111" >50</text>
<line x1="32.60" y1="380.99" x2="35.10" y2="380.99" stroke="#222" stroke-width="0.7" />
<text x="29.10" y="383.19" font-size="6.2" text-anchor="end" font-weight="normal" font-style="normal" fill="#111" >0</text>
<line x1="39.68" y1="393.10" x2="39.68" y2="395.60" stroke="#222" stroke-width="0.7" />
<text transform="translate(43.18,401.10) rotate(-45)" font-size="6.2" text-anchor="end" fill="#111">0</text>
<line x1="48.84" y1="393.10" x2="48.84" y2="395.60" stroke="#222" stroke-width="0.7" />
<text transform="translate(52.34,401.10) rotate(-45)" font-size="6.2" text-anchor="end" fill="#111">30</text>
<line x1="57.99" y1="393.10" x2="57.99" y2="395.60" stroke="#222" stroke-width="0.7" />
<text transform="translate(61.49,401.10) rotate(-45)" font-size="6.2" text-anchor="end" fill="#111">100</text>
<line x1="67.15" y1="393.10" x2="67.15" y2="395.60" stroke="#222" stroke-width="0.7" />
<text transform="translate(70.65,401.10) rotate(-45)" font-size="6.2" text-anchor="end" fill="#111">300</text>
<line x1="76.31" y1="393.10" x2="76.31" y2="395.60" stroke="#222" stroke-width="0.7" />
<text transform="translate(79.81,401.10) rotate(-45)" font-size="6.2" text-anchor="end" fill="#111">1000</text>
<line x1="85.46" y1="393.10" x2="85.46" y2="395.60" stroke="#222" stroke-width="0.7" />
<text transform="translate(88.96,401.10) rotate(-45)" font-size="6.2" text-anchor="end" fill="#111">3000</text>
<line x1="94.62" y1="393.10" x2="94.62" y2="395.60" stroke="#222" stroke-width="0.7" />
<text transform="translate(98.12,401.10) rotate(-45)" font-size="6.2" text-anchor="end" fill="#111">10000</text>
<text x="66.85" y="424.60" font-size="7.4" text-anchor="middle" font-weight="normal" font-style="normal" fill="#111" class="at" textLength="36" lengthAdjust="spacingAndGlyphs">OR-2100 (nM)</text>
<text transform="translate(14.10,344.65) rotate(-90)" font-size="7.4" text-anchor="middle" fill="#111" class="at" textLength="45" lengthAdjust="spacingAndGlyphs">Desorubicin (nM)</text>
<defs><linearGradient id="g35" x1="0" y1="0" x2="0" y2="1"><stop offset="0" stop-color="#c40f2c"/><stop offset="0.1" stop-color="#d4202e"/><stop offset="0.28" stop-color="#ea8578"/><stop offset="0.5" stop-color="#ffffff"/><stop offset="0.72" stop-color="#a9d596"/><stop offset="1" stop-color="#4a9a40"/></linearGradient></defs>
<rect x="103.20" y="329.20" width="4.00" height="35.40" fill="url(#g35)" />
<text x="108.20" y="332.40" font-size="4.4" text-anchor="start" font-weight="normal" font-style="normal" fill="#333" class="cb">100</text>
<text x="108.20" y="340.50" font-size="4.4" text-anchor="start" font-weight="normal" font-style="normal" fill="#333" class="cb">50</text>
<text x="108.20" y="348.60" font-size="4.4" text-anchor="start" font-weight="normal" font-style="normal" fill="#333" class="cb">0</text>
<text x="108.20" y="356.70" font-size="4.4" text-anchor="start" font-weight="normal" font-style="normal" fill="#333" class="cb">−50</text>
<text x="108.20" y="364.80" font-size="4.4" text-anchor="start" font-weight="normal" font-style="normal" fill="#333" class="cb">−100</text>
<text x="103.20" y="321.80" font-size="3.6" text-anchor="start" font-weight="normal" font-style="normal" fill="#555" class="cb">Inhibition</text>
<text x="103.20" y="326.00" font-size="3.6" text-anchor="start" font-weight="normal" font-style="normal" fill="#555" class="cb">(%)</text>
<text x="185.90" y="291.20" font-size="8.7" text-anchor="middle" fill="#222" class="ti" textLength="36.89" lengthAdjust="spacingAndGlyphs">SU-DHL-6</text>
<rect x="153.50" y="296.20" width="64.20" height="96.90" fill="#ec1c24" />
<rect x="153.50" y="296.20" width="9.77" height="24.83" fill="#ef6e55" />
<text x="158.09" y="309.81" font-size="4.2" text-anchor="middle" fill="#5a2020" class="cn">21</text>
<rect x="162.67" y="296.20" width="9.77" height="24.83" fill="#ec5f48" />
<text x="167.26" y="309.81" font-size="4.2" text-anchor="middle" fill="#5a2020" class="cn">27</text>
<rect x="171.84" y="296.20" width="9.77" height="24.83" fill="#e6412f" />
<text x="176.43" y="309.81" font-size="4.2" text-anchor="middle" fill="#5a2020" class="cn">31</text>
<rect x="181.01" y="296.20" width="9.77" height="24.83" fill="#eb5540" />
<text x="185.60" y="309.81" font-size="4.2" text-anchor="middle" fill="#5a2020" class="cn">33</text>
<text x="194.77" y="309.81" font-size="4.2" text-anchor="middle" fill="#5a2020" class="cn">53</text>
<text x="203.94" y="309.81" font-size="4.2" text-anchor="middle" fill="#5a2020" class="cn">53</text>
<text x="213.11" y="309.81" font-size="4.2" text-anchor="middle" fill="#5a2020" class="cn">63</text>
<rect x="153.50" y="320.43" width="9.77" height="24.83" fill="#fae4dc" />
<text x="158.09" y="334.04" font-size="4.2" text-anchor="middle" fill="#5a2020" class="cn">5</text>
<rect x="162.67" y="320.43" width="9.77" height="24.83" fill="#f29b87" />
<text x="167.26" y="334.04" font-size="4.2" text-anchor="middle" fill="#5a2020" class="cn">17</text>
<rect x="171.84" y="320.43" width="9.77" height="24.83" fill="#f29b87" />
<text x="176.43" y="334.04" font-size="4.2" text-anchor="middle" fill="#5a2020" class="cn">16</text>
<rect x="181.01" y="320.43" width="9.77" height="24.83" fill="#f29b87" />
<text x="185.60" y="334.04" font-size="4.2" text-anchor="middle" fill="#5a2020" class="cn">17</text>
<rect x="190.19" y="320.43" width="9.77" height="24.83" fill="#f08c73" />
<text x="194.77" y="334.04" font-size="4.2" text-anchor="middle" fill="#5a2020" class="cn">30</text>
<rect x="199.36" y="320.43" width="9.77" height="24.83" fill="#f08c73" />
<text x="203.94" y="334.04" font-size="4.2" text-anchor="middle" fill="#5a2020" class="cn">31</text>
<text x="213.11" y="334.04" font-size="4.2" text-anchor="middle" fill="#5a2020" class="cn">55</text>
<rect x="153.50" y="344.65" width="9.77" height="24.83" fill="#dcebcd" />
<text x="158.09" y="358.26" font-size="4.2" text-anchor="middle" fill="#5a2020" class="cn">−8</text>
<rect x="162.67" y="344.65" width="9.77" height="24.83" fill="#fcf0ee" />
<text x="167.26" y="358.26" font-size="4.2" text-anchor="middle" fill="#5a2020" class="cn">3</text>
<rect x="171.84" y="344.65" width="9.77" height="24.83" fill="#fdf5f2" />
<text x="176.43" y="358.26" font-size="4.2" text-anchor="middle" fill="#5a2020" class="cn">3</text>
<rect x="181.01" y="344.65" width="9.77" height="24.83" fill="#f5faf5" />
<text x="185.60" y="358.26" font-size="4.2" text-anchor="middle" fill="#5a2020" class="cn">−2</text>
<rect x="190.19" y="344.65" width="9.77" height="24.83" fill="#f8d2c3" />
<text x="194.77" y="358.26" font-size="4.2" text-anchor="middle" fill="#5a2020" class="cn">15</text>
<rect x="199.36" y="344.65" width="9.77" height="24.83" fill="#f5c3b4" />
<text x="203.94" y="358.26" font-size="4.2" text-anchor="middle" fill="#5a2020" class="cn">13</text>
<rect x="208.53" y="344.65" width="9.17" height="24.83" fill="#f0785f" />
<text x="213.11" y="358.26" font-size="4.2" text-anchor="middle" fill="#5a2020" class="cn">31</text>
<rect x="153.50" y="368.88" width="9.77" height="24.23" fill="#ffffff" />
<text x="158.09" y="382.49" font-size="4.2" text-anchor="middle" fill="#5a2020" class="cn">3</text>
<rect x="162.67" y="368.88" width="9.77" height="24.23" fill="#fce8e1" />
<text x="167.26" y="382.49" font-size="4.2" text-anchor="middle" fill="#5a2020" class="cn">4</text>
<rect x="171.84" y="368.88" width="9.77" height="24.23" fill="#fdf8f5" />
<text x="176.43" y="382.49" font-size="4.2" text-anchor="middle" fill="#5a2020" class="cn">1</text>
<rect x="181.01" y="368.88" width="9.77" height="24.23" fill="#f8fcf8" />
<text x="185.60" y="382.49" font-size="4.2" text-anchor="middle" fill="#5a2020" class="cn">−1</text>
<rect x="190.19" y="368.88" width="9.77" height="24.23" fill="#fadecf" />
<text x="194.77" y="382.49" font-size="4.2" text-anchor="middle" fill="#5a2020" class="cn">8</text>
<rect x="199.36" y="368.88" width="9.77" height="24.23" fill="#ee7d64" />
<text x="203.94" y="382.49" font-size="4.2" text-anchor="middle" fill="#5a2020" class="cn">20</text>
<text x="213.11" y="382.49" font-size="4.2" text-anchor="middle" fill="#5a2020" class="cn">58</text>
<line x1="153.50" y1="296.20" x2="153.50" y2="393.60" stroke="#222" stroke-width="0.8" />
<line x1="153.10" y1="393.10" x2="217.70" y2="393.10" stroke="#222" stroke-width="0.8" />
<line x1="151.00" y1="308.31" x2="153.50" y2="308.31" stroke="#222" stroke-width="0.7" />
<text x="147.50" y="310.51" font-size="6.2" text-anchor="end" font-weight="normal" font-style="normal" fill="#111" >200</text>
<line x1="151.00" y1="332.54" x2="153.50" y2="332.54" stroke="#222" stroke-width="0.7" />
<text x="147.50" y="334.74" font-size="6.2" text-anchor="end" font-weight="normal" font-style="normal" fill="#111" >100</text>
<line x1="151.00" y1="356.76" x2="153.50" y2="356.76" stroke="#222" stroke-width="0.7" />
<text x="147.50" y="358.96" font-size="6.2" text-anchor="end" font-weight="normal" font-style="normal" fill="#111" >50</text>
<line x1="151.00" y1="380.99" x2="153.50" y2="380.99" stroke="#222" stroke-width="0.7" />
<text x="147.50" y="383.19" font-size="6.2" text-anchor="end" font-weight="normal" font-style="normal" fill="#111" >0</text>
<line x1="158.09" y1="393.10" x2="158.09" y2="395.60" stroke="#222" stroke-width="0.7" />
<text transform="translate(161.59,401.10) rotate(-45)" font-size="6.2" text-anchor="end" fill="#111">0</text>
<line x1="167.26" y1="393.10" x2="167.26" y2="395.60" stroke="#222" stroke-width="0.7" />
<text transform="translate(170.76,401.10) rotate(-45)" font-size="6.2" text-anchor="end" fill="#111">30</text>
<line x1="176.43" y1="393.10" x2="176.43" y2="395.60" stroke="#222" stroke-width="0.7" />
<text transform="translate(179.93,401.10) rotate(-45)" font-size="6.2" text-anchor="end" fill="#111">100</text>
<line x1="185.60" y1="393.10" x2="185.60" y2="395.60" stroke="#222" stroke-width="0.7" />
<text transform="translate(189.10,401.10) rotate(-45)" font-size="6.2" text-anchor="end" fill="#111">300</text>
<line x1="194.77" y1="393.10" x2="194.77" y2="395.60" stroke="#222" stroke-width="0.7" />
<text transform="translate(198.27,401.10) rotate(-45)" font-size="6.2" text-anchor="end" fill="#111">1000</text>
<line x1="203.94" y1="393.10" x2="203.94" y2="395.60" stroke="#222" stroke-width="0.7" />
<text transform="translate(207.44,401.10) rotate(-45)" font-size="6.2" text-anchor="end" fill="#111">3000</text>
<line x1="213.11" y1="393.10" x2="213.11" y2="395.60" stroke="#222" stroke-width="0.7" />
<text transform="translate(216.61,401.10) rotate(-45)" font-size="6.2" text-anchor="end" fill="#111">10000</text>
<text x="185.30" y="424.60" font-size="7.4" text-anchor="middle" font-weight="normal" font-style="normal" fill="#111" class="at" textLength="36" lengthAdjust="spacingAndGlyphs">OR-2100 (nM)</text>
<text transform="translate(132.50,344.65) rotate(-90)" font-size="7.4" text-anchor="middle" fill="#111" class="at" textLength="45" lengthAdjust="spacingAndGlyphs">Desorubicin (nM)</text>
<defs><linearGradient id="g153" x1="0" y1="0" x2="0" y2="1"><stop offset="0" stop-color="#c40f2c"/><stop offset="0.1" stop-color="#d4202e"/><stop offset="0.28" stop-color="#ea8578"/><stop offset="0.5" stop-color="#ffffff"/><stop offset="0.72" stop-color="#a9d596"/><stop offset="1" stop-color="#4a9a40"/></linearGradient></defs>
<rect x="221.50" y="329.20" width="4.00" height="35.40" fill="url(#g153)" />
<text x="226.50" y="332.40" font-size="4.4" text-anchor="start" font-weight="normal" font-style="normal" fill="#333" class="cb">50</text>
<text x="226.50" y="340.50" font-size="4.4" text-anchor="start" font-weight="normal" font-style="normal" fill="#333" class="cb">25</text>
<text x="226.50" y="348.60" font-size="4.4" text-anchor="start" font-weight="normal" font-style="normal" fill="#333" class="cb">0</text>
<text x="226.50" y="356.70" font-size="4.4" text-anchor="start" font-weight="normal" font-style="normal" fill="#333" class="cb">−25</text>
<text x="226.50" y="364.80" font-size="4.4" text-anchor="start" font-weight="normal" font-style="normal" fill="#333" class="cb">−50</text>
<text x="221.50" y="326.60" font-size="3.9" text-anchor="start" font-weight="normal" font-style="normal" fill="#555" class="cb">Inhibition (%)</text>
<text x="320.70" y="291.20" font-size="8.7" text-anchor="middle" fill="#222" class="ti" textLength="11.55" lengthAdjust="spacingAndGlyphs">RC</text>
<rect x="288.10" y="296.20" width="64.60" height="96.90" fill="#ec1c24" />
<text x="292.71" y="309.81" font-size="4.2" text-anchor="middle" fill="#5a2020" class="cn">93</text>
<text x="301.94" y="309.81" font-size="4.2" text-anchor="middle" fill="#5a2020" class="cn">97</text>
<text x="311.17" y="309.81" font-size="4.2" text-anchor="middle" fill="#5a2020" class="cn">98</text>
<text x="320.40" y="309.81" font-size="4.2" text-anchor="middle" fill="#5a2020" class="cn">99</text>
<text x="329.63" y="309.81" font-size="4.2" text-anchor="middle" fill="#5a2020" class="cn">99</text>
<text x="338.86" y="309.81" font-size="4.2" text-anchor="middle" fill="#5a2020" class="cn">99</text>
<text x="348.09" y="309.81" font-size="4.2" text-anchor="middle" fill="#5a2020" class="cn">97</text>
<rect x="288.10" y="320.43" width="9.83" height="24.83" fill="#ec2224" />
<text x="292.71" y="334.04" font-size="4.2" text-anchor="middle" fill="#5a2020" class="cn">73</text>
<text x="301.94" y="334.04" font-size="4.2" text-anchor="middle" fill="#5a2020" class="cn">91</text>
<text x="311.17" y="334.04" font-size="4.2" text-anchor="middle" fill="#5a2020" class="cn">92</text>
<text x="320.40" y="334.04" font-size="4.2" text-anchor="middle" fill="#5a2020" class="cn">100</text>
<text x="329.63" y="334.04" font-size="4.2" text-anchor="middle" fill="#5a2020" class="cn">98</text>
<text x="338.86" y="334.04" font-size="4.2" text-anchor="middle" fill="#5a2020" class="cn">98</text>
<text x="348.09" y="334.04" font-size="4.2" text-anchor="middle" fill="#5a2020" class="cn">92</text>
<rect x="288.10" y="344.65" width="9.83" height="24.83" fill="#f5d6c8" />
<text x="292.71" y="358.26" font-size="4.2" text-anchor="middle" fill="#5a2020" class="cn">21</text>
<text x="301.94" y="358.26" font-size="4.2" text-anchor="middle" fill="#5a2020" class="cn">91</text>
<text x="311.17" y="358.26" font-size="4.2" text-anchor="middle" fill="#5a2020" class="cn">93</text>
<text x="320.40" y="358.26" font-size="4.2" text-anchor="middle" fill="#5a2020" class="cn">95</text>
<text x="329.63" y="358.26" font-size="4.2" text-anchor="middle" fill="#5a2020" class="cn">95</text>
<text x="338.86" y="358.26" font-size="4.2" text-anchor="middle" fill="#5a2020" class="cn">95</text>
<text x="348.09" y="358.26" font-size="4.2" text-anchor="middle" fill="#5a2020" class="cn">95</text>
<rect x="288.10" y="368.88" width="9.83" height="24.23" fill="#ffffff" />
<text x="292.71" y="382.49" font-size="4.2" text-anchor="middle" fill="#5a2020" class="cn">0</text>
<rect x="297.33" y="368.88" width="9.83" height="24.23" fill="#e6503a" />
<text x="301.94" y="382.49" font-size="4.2" text-anchor="middle" fill="#5a2020" class="cn">40</text>
<rect x="306.56" y="368.88" width="9.83" height="24.23" fill="#ea2a26" />
<text x="311.17" y="382.49" font-size="4.2" text-anchor="middle" fill="#5a2020" class="cn">73</text>
<text x="320.40" y="382.49" font-size="4.2" text-anchor="middle" fill="#5a2020" class="cn">78</text>
<text x="329.63" y="382.49" font-size="4.2" text-anchor="middle" fill="#5a2020" class="cn">78</text>
<text x="338.86" y="382.49" font-size="4.2" text-anchor="middle" fill="#5a2020" class="cn">78</text>
<text x="348.09" y="382.49" font-size="4.2" text-anchor="middle" fill="#5a2020" class="cn">80</text>
<line x1="288.10" y1="296.20" x2="288.10" y2="393.60" stroke="#222" stroke-width="0.8" />
<line x1="287.70" y1="393.10" x2="352.70" y2="393.10" stroke="#222" stroke-width="0.8" />
<line x1="285.60" y1="308.31" x2="288.10" y2="308.31" stroke="#222" stroke-width="0.7" />
<text x="282.10" y="310.51" font-size="6.2" text-anchor="end" font-weight="normal" font-style="normal" fill="#111" >200</text>
<line x1="285.60" y1="332.54" x2="288.10" y2="332.54" stroke="#222" stroke-width="0.7" />
<text x="282.10" y="334.74" font-size="6.2" text-anchor="end" font-weight="normal" font-style="normal" fill="#111" >100</text>
<line x1="285.60" y1="356.76" x2="288.10" y2="356.76" stroke="#222" stroke-width="0.7" />
<text x="282.10" y="358.96" font-size="6.2" text-anchor="end" font-weight="normal" font-style="normal" fill="#111" >50</text>
<line x1="285.60" y1="380.99" x2="288.10" y2="380.99" stroke="#222" stroke-width="0.7" />
<text x="282.10" y="383.19" font-size="6.2" text-anchor="end" font-weight="normal" font-style="normal" fill="#111" >0</text>
<line x1="292.71" y1="393.10" x2="292.71" y2="395.60" stroke="#222" stroke-width="0.7" />
<text transform="translate(296.21,401.10) rotate(-45)" font-size="6.2" text-anchor="end" fill="#111">0</text>
<line x1="301.94" y1="393.10" x2="301.94" y2="395.60" stroke="#222" stroke-width="0.7" />
<text transform="translate(305.44,401.10) rotate(-45)" font-size="6.2" text-anchor="end" fill="#111">30</text>
<line x1="311.17" y1="393.10" x2="311.17" y2="395.60" stroke="#222" stroke-width="0.7" />
<text transform="translate(314.67,401.10) rotate(-45)" font-size="6.2" text-anchor="end" fill="#111">100</text>
<line x1="320.40" y1="393.10" x2="320.40" y2="395.60" stroke="#222" stroke-width="0.7" />
<text transform="translate(323.90,401.10) rotate(-45)" font-size="6.2" text-anchor="end" fill="#111">300</text>
<line x1="329.63" y1="393.10" x2="329.63" y2="395.60" stroke="#222" stroke-width="0.7" />
<text transform="translate(333.13,401.10) rotate(-45)" font-size="6.2" text-anchor="end" fill="#111">1000</text>
<line x1="338.86" y1="393.10" x2="338.86" y2="395.60" stroke="#222" stroke-width="0.7" />
<text transform="translate(342.36,401.10) rotate(-45)" font-size="6.2" text-anchor="end" fill="#111">3000</text>
<line x1="348.09" y1="393.10" x2="348.09" y2="395.60" stroke="#222" stroke-width="0.7" />
<text transform="translate(351.59,401.10) rotate(-45)" font-size="6.2" text-anchor="end" fill="#111">10000</text>
<text x="320.10" y="424.60" font-size="7.4" text-anchor="middle" font-weight="normal" font-style="normal" fill="#111" class="at" textLength="36" lengthAdjust="spacingAndGlyphs">OR-2100 (nM)</text>
<text transform="translate(265.80,344.65) rotate(-90)" font-size="7.4" text-anchor="middle" fill="#111" class="at" textLength="40" lengthAdjust="spacingAndGlyphs">Vincristine (nM)</text>
<defs><linearGradient id="g288" x1="0" y1="0" x2="0" y2="1"><stop offset="0" stop-color="#c40f2c"/><stop offset="0.1" stop-color="#d4202e"/><stop offset="0.28" stop-color="#ea8578"/><stop offset="0.5" stop-color="#ffffff"/><stop offset="0.72" stop-color="#a9d596"/><stop offset="1" stop-color="#4a9a40"/></linearGradient></defs>
<rect x="357.00" y="329.20" width="4.00" height="35.40" fill="url(#g288)" />
<text x="362.00" y="332.40" font-size="4.4" text-anchor="start" font-weight="normal" font-style="normal" fill="#333" class="cb">100</text>
<text x="362.00" y="340.50" font-size="4.4" text-anchor="start" font-weight="normal" font-style="normal" fill="#333" class="cb">50</text>
<text x="362.00" y="348.60" font-size="4.4" text-anchor="start" font-weight="normal" font-style="normal" fill="#333" class="cb">0</text>
<text x="362.00" y="356.70" font-size="4.4" text-anchor="start" font-weight="normal" font-style="normal" fill="#333" class="cb">−50</text>
<text x="362.00" y="364.80" font-size="4.4" text-anchor="start" font-weight="normal" font-style="normal" fill="#333" class="cb">−100</text>
<text x="357.00" y="326.60" font-size="3.9" text-anchor="start" font-weight="normal" font-style="normal" fill="#555" class="cb">Inhibition (%)</text>
<text x="447.10" y="291.20" font-size="8.7" text-anchor="middle" fill="#222" class="ti" textLength="36.89" lengthAdjust="spacingAndGlyphs">SU-DHL-6</text>
<rect x="414.20" y="296.20" width="65.20" height="96.90" fill="#ec1c24" />
<rect x="414.20" y="296.20" width="9.91" height="24.83" fill="#ef6e55" />
<text x="418.86" y="309.81" font-size="4.2" text-anchor="middle" fill="#5a2020" class="cn">21</text>
<rect x="423.51" y="296.20" width="9.91" height="24.83" fill="#ec5f48" />
<text x="428.17" y="309.81" font-size="4.2" text-anchor="middle" fill="#5a2020" class="cn">27</text>
<rect x="432.83" y="296.20" width="9.91" height="24.83" fill="#e6412f" />
<text x="437.49" y="309.81" font-size="4.2" text-anchor="middle" fill="#5a2020" class="cn">31</text>
<rect x="442.14" y="296.20" width="9.91" height="24.83" fill="#eb5540" />
<text x="446.80" y="309.81" font-size="4.2" text-anchor="middle" fill="#5a2020" class="cn">33</text>
<text x="456.11" y="309.81" font-size="4.2" text-anchor="middle" fill="#5a2020" class="cn">53</text>
<text x="465.43" y="309.81" font-size="4.2" text-anchor="middle" fill="#5a2020" class="cn">53</text>
<text x="474.74" y="309.81" font-size="4.2" text-anchor="middle" fill="#5a2020" class="cn">63</text>
<rect x="414.20" y="320.43" width="9.91" height="24.83" fill="#fae4dc" />
<text x="418.86" y="334.04" font-size="4.2" text-anchor="middle" fill="#5a2020" class="cn">5</text>
<rect x="423.51" y="320.43" width="9.91" height="24.83" fill="#f29b87" />
<text x="428.17" y="334.04" font-size="4.2" text-anchor="middle" fill="#5a2020" class="cn">17</text>
<rect x="432.83" y="320.43" width="9.91" height="24.83" fill="#f29b87" />
<text x="437.49" y="334.04" font-size="4.2" text-anchor="middle" fill="#5a2020" class="cn">16</text>
<rect x="442.14" y="320.43" width="9.91" height="24.83" fill="#f29b87" />
<text x="446.80" y="334.04" font-size="4.2" text-anchor="middle" fill="#5a2020" class="cn">17</text>
<rect x="451.46" y="320.43" width="9.91" height="24.83" fill="#f08c73" />
<text x="456.11" y="334.04" font-size="4.2" text-anchor="middle" fill="#5a2020" class="cn">30</text>
<rect x="460.77" y="320.43" width="9.91" height="24.83" fill="#f08c73" />
<text x="465.43" y="334.04" font-size="4.2" text-anchor="middle" fill="#5a2020" class="cn">31</text>
<text x="474.74" y="334.04" font-size="4.2" text-anchor="middle" fill="#5a2020" class="cn">55</text>
<rect x="414.20" y="344.65" width="9.91" height="24.83" fill="#dcebcd" />
<text x="418.86" y="358.26" font-size="4.2" text-anchor="middle" fill="#5a2020" class="cn">−8</text>
<rect x="423.51" y="344.65" width="9.91" height="24.83" fill="#fcf0ee" />
<text x="428.17" y="358.26" font-size="4.2" text-anchor="middle" fill="#5a2020" class="cn">3</text>
<rect x="432.83" y="344.65" width="9.91" height="24.83" fill="#fdf5f2" />
<text x="437.49" y="358.26" font-size="4.2" text-anchor="middle" fill="#5a2020" class="cn">3</text>
<rect x="442.14" y="344.65" width="9.91" height="24.83" fill="#f5faf5" />
<text x="446.80" y="358.26" font-size="4.2" text-anchor="middle" fill="#5a2020" class="cn">−2</text>
<rect x="451.46" y="344.65" width="9.91" height="24.83" fill="#f8d2c3" />
<text x="456.11" y="358.26" font-size="4.2" text-anchor="middle" fill="#5a2020" class="cn">15</text>
<rect x="460.77" y="344.65" width="9.91" height="24.83" fill="#f5c3b4" />
<text x="465.43" y="358.26" font-size="4.2" text-anchor="middle" fill="#5a2020" class="cn">13</text>
<rect x="470.09" y="344.65" width="9.31" height="24.83" fill="#f0785f" />
<text x="474.74" y="358.26" font-size="4.2" text-anchor="middle" fill="#5a2020" class="cn">31</text>
<rect x="414.20" y="368.88" width="9.91" height="24.23" fill="#ffffff" />
<text x="418.86" y="382.49" font-size="4.2" text-anchor="middle" fill="#5a2020" class="cn">3</text>
<rect x="423.51" y="368.88" width="9.91" height="24.23" fill="#fce8e1" />
<text x="428.17" y="382.49" font-size="4.2" text-anchor="middle" fill="#5a2020" class="cn">4</text>
<rect x="432.83" y="368.88" width="9.91" height="24.23" fill="#fdf8f5" />
<text x="437.49" y="382.49" font-size="4.2" text-anchor="middle" fill="#5a2020" class="cn">1</text>
<rect x="442.14" y="368.88" width="9.91" height="24.23" fill="#f8fcf8" />
<text x="446.80" y="382.49" font-size="4.2" text-anchor="middle" fill="#5a2020" class="cn">−1</text>
<rect x="451.46" y="368.88" width="9.91" height="24.23" fill="#fadecf" />
<text x="456.11" y="382.49" font-size="4.2" text-anchor="middle" fill="#5a2020" class="cn">8</text>
<rect x="460.77" y="368.88" width="9.91" height="24.23" fill="#ee7d64" />
<text x="465.43" y="382.49" font-size="4.2" text-anchor="middle" fill="#5a2020" class="cn">20</text>
<text x="474.74" y="382.49" font-size="4.2" text-anchor="middle" fill="#5a2020" class="cn">58</text>
<line x1="414.20" y1="296.20" x2="414.20" y2="393.60" stroke="#222" stroke-width="0.8" />
<line x1="413.80" y1="393.10" x2="479.40" y2="393.10" stroke="#222" stroke-width="0.8" />
<line x1="411.70" y1="308.31" x2="414.20" y2="308.31" stroke="#222" stroke-width="0.7" />
<text x="408.20" y="310.51" font-size="6.2" text-anchor="end" font-weight="normal" font-style="normal" fill="#111" >200</text>
<line x1="411.70" y1="332.54" x2="414.20" y2="332.54" stroke="#222" stroke-width="0.7" />
<text x="408.20" y="334.74" font-size="6.2" text-anchor="end" font-weight="normal" font-style="normal" fill="#111" >100</text>
<line x1="411.70" y1="356.76" x2="414.20" y2="356.76" stroke="#222" stroke-width="0.7" />
<text x="408.20" y="358.96" font-size="6.2" text-anchor="end" font-weight="normal" font-style="normal" fill="#111" >50</text>
<line x1="411.70" y1="380.99" x2="414.20" y2="380.99" stroke="#222" stroke-width="0.7" />
<text x="408.20" y="383.19" font-size="6.2" text-anchor="end" font-weight="normal" font-style="normal" fill="#111" >0</text>
<line x1="418.86" y1="393.10" x2="418.86" y2="395.60" stroke="#222" stroke-width="0.7" />
<text transform="translate(422.36,401.10) rotate(-45)" font-size="6.2" text-anchor="end" fill="#111">0</text>
<line x1="428.17" y1="393.10" x2="428.17" y2="395.60" stroke="#222" stroke-width="0.7" />
<text transform="translate(431.67,401.10) rotate(-45)" font-size="6.2" text-anchor="end" fill="#111">30</text>
<line x1="437.49" y1="393.10" x2="437.49" y2="395.60" stroke="#222" stroke-width="0.7" />
<text transform="translate(440.99,401.10) rotate(-45)" font-size="6.2" text-anchor="end" fill="#111">100</text>
<line x1="446.80" y1="393.10" x2="446.80" y2="395.60" stroke="#222" stroke-width="0.7" />
<text transform="translate(450.30,401.10) rotate(-45)" font-size="6.2" text-anchor="end" fill="#111">300</text>
<line x1="456.11" y1="393.10" x2="456.11" y2="395.60" stroke="#222" stroke-width="0.7" />
<text transform="translate(459.61,401.10) rotate(-45)" font-size="6.2" text-anchor="end" fill="#111">1000</text>
<line x1="465.43" y1="393.10" x2="465.43" y2="395.60" stroke="#222" stroke-width="0.7" />
<text transform="translate(468.93,401.10) rotate(-45)" font-size="6.2" text-anchor="end" fill="#111">3000</text>
<line x1="474.74" y1="393.10" x2="474.74" y2="395.60" stroke="#222" stroke-width="0.7" />
<text transform="translate(478.24,401.10) rotate(-45)" font-size="6.2" text-anchor="end" fill="#111">10000</text>
<text x="446.50" y="424.60" font-size="7.4" text-anchor="middle" font-weight="normal" font-style="normal" fill="#111" class="at" textLength="36" lengthAdjust="spacingAndGlyphs">OR-2100 (nM)</text>
<text transform="translate(391.90,344.65) rotate(-90)" font-size="7.4" text-anchor="middle" fill="#111" class="at" textLength="40" lengthAdjust="spacingAndGlyphs">Vincristine (nM)</text>
<defs><linearGradient id="g414" x1="0" y1="0" x2="0" y2="1"><stop offset="0" stop-color="#c40f2c"/><stop offset="0.1" stop-color="#d4202e"/><stop offset="0.28" stop-color="#ea8578"/><stop offset="0.5" stop-color="#ffffff"/><stop offset="0.72" stop-color="#a9d596"/><stop offset="1" stop-color="#4a9a40"/></linearGradient></defs>
<rect x="483.40" y="329.20" width="4.00" height="35.40" fill="url(#g414)" />
<text x="488.40" y="332.40" font-size="4.4" text-anchor="start" font-weight="normal" font-style="normal" fill="#333" class="cb">50</text>
<text x="488.40" y="340.50" font-size="4.4" text-anchor="start" font-weight="normal" font-style="normal" fill="#333" class="cb">25</text>
<text x="488.40" y="348.60" font-size="4.4" text-anchor="start" font-weight="normal" font-style="normal" fill="#333" class="cb">0</text>
<text x="488.40" y="356.70" font-size="4.4" text-anchor="start" font-weight="normal" font-style="normal" fill="#333" class="cb">−25</text>
<text x="488.40" y="364.80" font-size="4.4" text-anchor="start" font-weight="normal" font-style="normal" fill="#333" class="cb">−50</text>
<text x="483.40" y="326.60" font-size="3.9" text-anchor="start" font-weight="normal" font-style="normal" fill="#555" class="cb">Inhibition (%)</text>
<rect x="0.00" y="0.00" width="520.00" height="1.00" fill="#3a3a3a" />
<rect x="0.00" y="0.00" width="1.20" height="434.00" fill="#3a3a3a" />
<rect x="518.90" y="0.00" width="1.10" height="434.00" fill="#3a3a3a" />
<rect x="0.00" y="432.70" width="520.00" height="1.30" fill="#3a3a3a" />
</svg></body></html>
